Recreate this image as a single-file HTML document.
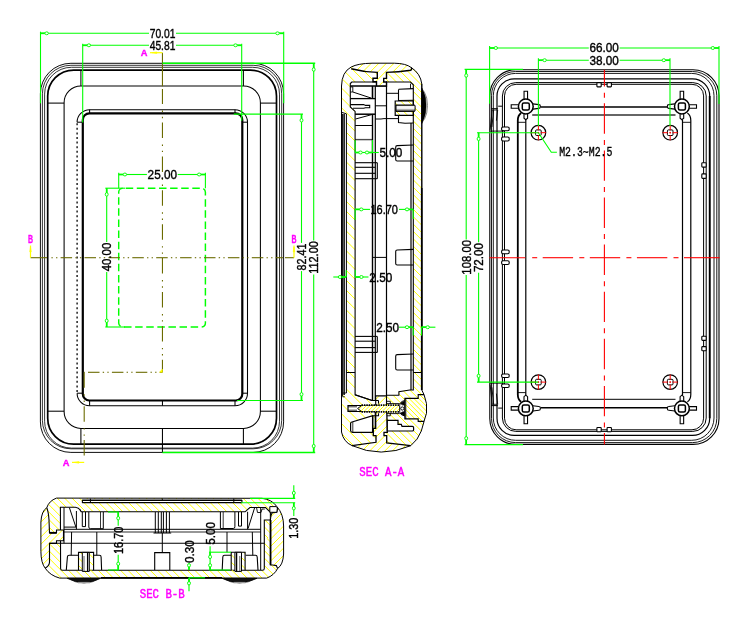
<!DOCTYPE html>
<html><head><meta charset="utf-8"><title>Enclosure drawing</title>
<style>html,body{margin:0;padding:0;background:#fff;overflow:hidden}svg{display:block}</style>
</head><body>
<svg width="750" height="623" viewBox="0 0 750 623" stroke-linecap="butt" style="will-change:transform">
<rect x="0" y="0" width="750" height="623" fill="#fff"/>
<g id="front">
<rect x="40.4" y="63.3" width="243.2" height="389.1" rx="30.5" ry="30.5" stroke="#000" stroke-width="0.95" fill="none" />
<rect x="42.4" y="65.3" width="239.3" height="383.5" rx="28.5" ry="28.5" stroke="#000" stroke-width="0.8" fill="none" />
<rect x="44.6" y="67.3" width="234.9" height="380.8" rx="26.8" ry="26.8" stroke="#000" stroke-width="0.8" fill="none" />
<rect x="47.7" y="70.1" width="228.8" height="374.1" rx="26" ry="26" stroke="#000" stroke-width="1.7" fill="none" />
<rect x="64.1" y="85.9" width="196.3" height="342.5" rx="16.8" ry="16.8" stroke="#000" stroke-width="1.05" fill="none" />
<line x1="80.9" y1="70.1" x2="80.9" y2="85.9" stroke="#000" stroke-width="1.05" />
<line x1="80.9" y1="428.4" x2="80.9" y2="444.2" stroke="#000" stroke-width="1.05" />
<line x1="47.7" y1="103.1" x2="64.1" y2="103.1" stroke="#000" stroke-width="1.05" />
<line x1="47.7" y1="411.2" x2="64.1" y2="411.2" stroke="#000" stroke-width="1.05" />
<line x1="243.4" y1="70.1" x2="243.4" y2="85.9" stroke="#000" stroke-width="1.05" />
<line x1="243.4" y1="428.4" x2="243.4" y2="444.2" stroke="#000" stroke-width="1.05" />
<line x1="276.5" y1="103.1" x2="260.4" y2="103.1" stroke="#000" stroke-width="1.05" />
<line x1="276.5" y1="411.2" x2="260.4" y2="411.2" stroke="#000" stroke-width="1.05" />
<path d="M77.1 122.2 A12.5 12.5 0 0 1 89.6 109.7 L235.0 109.7 A12.5 12.5 0 0 1 247.5 122.2 L247.5 393.2 A12.5 12.5 0 0 1 235.0 405.7 L89.6 405.7 A12.5 12.5 0 0 1 77.1 393.2" stroke="#000" stroke-width="1.05" fill="none" />
<line x1="77.1" y1="123.2" x2="77.1" y2="393.2" stroke="#000" stroke-width="1.3" stroke-dasharray="2 2.6"/>
<rect x="82.8" y="113.4" width="159.5" height="287.1" rx="6.5" ry="6.5" stroke="#000" stroke-width="2.2" fill="none" />
<line x1="77.1" y1="122.2" x2="82.8" y2="122.2" stroke="#000" stroke-width="1.05" />
<line x1="89.6" y1="109.7" x2="89.6" y2="113.4" stroke="#000" stroke-width="1.05" />
<line x1="235" y1="109.7" x2="235" y2="113.4" stroke="#000" stroke-width="1.05" />
<line x1="247.5" y1="122.2" x2="242.3" y2="122.2" stroke="#000" stroke-width="1.05" />
<line x1="77.1" y1="393.2" x2="82.8" y2="393.2" stroke="#000" stroke-width="1.05" />
<line x1="89.6" y1="405.7" x2="89.6" y2="400.5" stroke="#000" stroke-width="1.05" />
<line x1="235" y1="405.7" x2="235" y2="400.5" stroke="#000" stroke-width="1.05" />
<line x1="247.5" y1="393.2" x2="242.3" y2="393.2" stroke="#000" stroke-width="1.05" />
<line x1="162.45" y1="400.5" x2="162.45" y2="405.7" stroke="#000" stroke-width="1.05" />
<line x1="162.45" y1="428.4" x2="162.45" y2="452.4" stroke="#000" stroke-width="1.05" />
<rect x="118.7" y="188.2" width="86.7" height="138.8" rx="4" ry="4" stroke="#00ff00" stroke-width="1.45" fill="none" stroke-dasharray="7.5 3.6" stroke-dashoffset="-3"/>
<line x1="162.45" y1="52.7" x2="162.45" y2="86.3" stroke="#6b6b00" stroke-width="1.1" />
<line x1="162.45" y1="89" x2="162.45" y2="104.1" stroke="#6b6b00" stroke-width="1.1" />
<line x1="162.45" y1="110.6" x2="162.45" y2="112" stroke="#6b6b00" stroke-width="1.1" />
<line x1="162.45" y1="116.8" x2="162.45" y2="118.2" stroke="#6b6b00" stroke-width="1.1" />
<line x1="162.45" y1="122.5" x2="162.45" y2="138" stroke="#6b6b00" stroke-width="1.1" />
<line x1="162.45" y1="144.5" x2="162.45" y2="145.9" stroke="#6b6b00" stroke-width="1.1" />
<line x1="162.45" y1="150.7" x2="162.45" y2="152.1" stroke="#6b6b00" stroke-width="1.1" />
<line x1="162.45" y1="156.4" x2="162.45" y2="171.9" stroke="#6b6b00" stroke-width="1.1" />
<line x1="162.45" y1="178.4" x2="162.45" y2="179.8" stroke="#6b6b00" stroke-width="1.1" />
<line x1="162.45" y1="184.6" x2="162.45" y2="186" stroke="#6b6b00" stroke-width="1.1" />
<line x1="162.45" y1="190.3" x2="162.45" y2="205.8" stroke="#6b6b00" stroke-width="1.1" />
<line x1="162.45" y1="212.3" x2="162.45" y2="213.7" stroke="#6b6b00" stroke-width="1.1" />
<line x1="162.45" y1="218.5" x2="162.45" y2="219.9" stroke="#6b6b00" stroke-width="1.1" />
<line x1="162.45" y1="224.2" x2="162.45" y2="239.7" stroke="#6b6b00" stroke-width="1.1" />
<line x1="162.45" y1="246.2" x2="162.45" y2="247.6" stroke="#6b6b00" stroke-width="1.1" />
<line x1="162.45" y1="252.4" x2="162.45" y2="253.8" stroke="#6b6b00" stroke-width="1.1" />
<line x1="162.45" y1="258.1" x2="162.45" y2="273.6" stroke="#6b6b00" stroke-width="1.1" />
<line x1="162.45" y1="280.1" x2="162.45" y2="281.5" stroke="#6b6b00" stroke-width="1.1" />
<line x1="162.45" y1="286.3" x2="162.45" y2="287.7" stroke="#6b6b00" stroke-width="1.1" />
<line x1="162.45" y1="292" x2="162.45" y2="307.5" stroke="#6b6b00" stroke-width="1.1" />
<line x1="162.45" y1="314" x2="162.45" y2="315.4" stroke="#6b6b00" stroke-width="1.1" />
<line x1="162.45" y1="320.2" x2="162.45" y2="321.6" stroke="#6b6b00" stroke-width="1.1" />
<line x1="162.45" y1="325.9" x2="162.45" y2="341.4" stroke="#6b6b00" stroke-width="1.1" />
<line x1="162.45" y1="347.9" x2="162.45" y2="349.3" stroke="#6b6b00" stroke-width="1.1" />
<line x1="162.45" y1="354.1" x2="162.45" y2="355.5" stroke="#6b6b00" stroke-width="1.1" />
<line x1="162.45" y1="359.8" x2="162.45" y2="372.3" stroke="#6b6b00" stroke-width="1.1" />
<line x1="30.5" y1="257.7" x2="47" y2="257.7" stroke="#6b6b00" stroke-width="1.1" />
<line x1="285" y1="257.7" x2="294" y2="257.7" stroke="#6b6b00" stroke-width="1.1" />
<line x1="51.4" y1="257.7" x2="52.8" y2="257.7" stroke="#6b6b00" stroke-width="1.1" />
<line x1="56" y1="257.7" x2="57.4" y2="257.7" stroke="#6b6b00" stroke-width="1.1" />
<line x1="60.6" y1="257.7" x2="72.1" y2="257.7" stroke="#6b6b00" stroke-width="1.1" />
<line x1="75.3" y1="257.7" x2="76.7" y2="257.7" stroke="#6b6b00" stroke-width="1.1" />
<line x1="79.9" y1="257.7" x2="81.3" y2="257.7" stroke="#6b6b00" stroke-width="1.1" />
<line x1="84.5" y1="257.7" x2="96" y2="257.7" stroke="#6b6b00" stroke-width="1.1" />
<line x1="99.2" y1="257.7" x2="100.6" y2="257.7" stroke="#6b6b00" stroke-width="1.1" />
<line x1="103.8" y1="257.7" x2="105.2" y2="257.7" stroke="#6b6b00" stroke-width="1.1" />
<line x1="108.4" y1="257.7" x2="119.9" y2="257.7" stroke="#6b6b00" stroke-width="1.1" />
<line x1="123.1" y1="257.7" x2="124.5" y2="257.7" stroke="#6b6b00" stroke-width="1.1" />
<line x1="127.7" y1="257.7" x2="129.1" y2="257.7" stroke="#6b6b00" stroke-width="1.1" />
<line x1="132.3" y1="257.7" x2="143.8" y2="257.7" stroke="#6b6b00" stroke-width="1.1" />
<line x1="147" y1="257.7" x2="148.4" y2="257.7" stroke="#6b6b00" stroke-width="1.1" />
<line x1="151.6" y1="257.7" x2="153" y2="257.7" stroke="#6b6b00" stroke-width="1.1" />
<line x1="156.2" y1="257.7" x2="167.7" y2="257.7" stroke="#6b6b00" stroke-width="1.1" />
<line x1="170.9" y1="257.7" x2="172.3" y2="257.7" stroke="#6b6b00" stroke-width="1.1" />
<line x1="175.5" y1="257.7" x2="176.9" y2="257.7" stroke="#6b6b00" stroke-width="1.1" />
<line x1="180.1" y1="257.7" x2="191.6" y2="257.7" stroke="#6b6b00" stroke-width="1.1" />
<line x1="194.8" y1="257.7" x2="196.2" y2="257.7" stroke="#6b6b00" stroke-width="1.1" />
<line x1="199.4" y1="257.7" x2="200.8" y2="257.7" stroke="#6b6b00" stroke-width="1.1" />
<line x1="204" y1="257.7" x2="215.5" y2="257.7" stroke="#6b6b00" stroke-width="1.1" />
<line x1="218.7" y1="257.7" x2="220.1" y2="257.7" stroke="#6b6b00" stroke-width="1.1" />
<line x1="223.3" y1="257.7" x2="224.7" y2="257.7" stroke="#6b6b00" stroke-width="1.1" />
<line x1="227.9" y1="257.7" x2="239.4" y2="257.7" stroke="#6b6b00" stroke-width="1.1" />
<line x1="242.6" y1="257.7" x2="244" y2="257.7" stroke="#6b6b00" stroke-width="1.1" />
<line x1="247.2" y1="257.7" x2="248.6" y2="257.7" stroke="#6b6b00" stroke-width="1.1" />
<line x1="251.8" y1="257.7" x2="263.3" y2="257.7" stroke="#6b6b00" stroke-width="1.1" />
<line x1="266.5" y1="257.7" x2="267.9" y2="257.7" stroke="#6b6b00" stroke-width="1.1" />
<line x1="271.1" y1="257.7" x2="272.5" y2="257.7" stroke="#6b6b00" stroke-width="1.1" />
<line x1="275.7" y1="257.7" x2="283" y2="257.7" stroke="#6b6b00" stroke-width="1.1" />
<line x1="84.2" y1="372.3" x2="84.8" y2="372.3" stroke="#6b6b00" stroke-width="1.1" />
<line x1="88" y1="372.3" x2="99.5" y2="372.3" stroke="#6b6b00" stroke-width="1.1" />
<line x1="102.7" y1="372.3" x2="104.1" y2="372.3" stroke="#6b6b00" stroke-width="1.1" />
<line x1="107.3" y1="372.3" x2="108.7" y2="372.3" stroke="#6b6b00" stroke-width="1.1" />
<line x1="111.9" y1="372.3" x2="123.4" y2="372.3" stroke="#6b6b00" stroke-width="1.1" />
<line x1="126.6" y1="372.3" x2="128" y2="372.3" stroke="#6b6b00" stroke-width="1.1" />
<line x1="131.2" y1="372.3" x2="132.6" y2="372.3" stroke="#6b6b00" stroke-width="1.1" />
<line x1="135.8" y1="372.3" x2="147.3" y2="372.3" stroke="#6b6b00" stroke-width="1.1" />
<line x1="150.5" y1="372.3" x2="151.9" y2="372.3" stroke="#6b6b00" stroke-width="1.1" />
<line x1="155.1" y1="372.3" x2="156.5" y2="372.3" stroke="#6b6b00" stroke-width="1.1" />
<line x1="159.7" y1="372.3" x2="162.4" y2="372.3" stroke="#6b6b00" stroke-width="1.1" />
<line x1="84.2" y1="372.3" x2="84.2" y2="387.8" stroke="#6b6b00" stroke-width="1.1" />
<line x1="84.2" y1="394.3" x2="84.2" y2="395.7" stroke="#6b6b00" stroke-width="1.1" />
<line x1="84.2" y1="400.5" x2="84.2" y2="401.9" stroke="#6b6b00" stroke-width="1.1" />
<line x1="84.2" y1="406.2" x2="84.2" y2="421.7" stroke="#6b6b00" stroke-width="1.1" />
<line x1="84.2" y1="428.2" x2="84.2" y2="429.6" stroke="#6b6b00" stroke-width="1.1" />
<line x1="84.2" y1="434.4" x2="84.2" y2="435.8" stroke="#6b6b00" stroke-width="1.1" />
<line x1="84.2" y1="440.1" x2="84.2" y2="455.6" stroke="#6b6b00" stroke-width="1.1" />
<path d="M162.4 372.3 L162.4 369 L159.5 372.3 Z" stroke="#ffff00" stroke-width="0.5" fill="#ffff00" />
<line x1="150" y1="52.7" x2="162.4" y2="52.7" stroke="#ffff00" stroke-width="1.2" />
<path d="M152 52.7 L156.8 51.9 L156.8 53.5 Z" stroke="#ffff00" stroke-width="0.6" fill="#ffff00" />
<line x1="72" y1="462.4" x2="84.2" y2="462.4" stroke="#ffff00" stroke-width="1.2" />
<path d="M74 462.4 L78.8 461.6 L78.8 463.2 Z" stroke="#ffff00" stroke-width="0.6" fill="#ffff00" />
<line x1="30.5" y1="245.5" x2="30.5" y2="257.7" stroke="#ffff00" stroke-width="1.2" />
<path d="M30.5 247 L29.7 251.8 L31.3 251.8 Z" stroke="#ffff00" stroke-width="0.6" fill="#ffff00" />
<line x1="294" y1="245.5" x2="294" y2="257.7" stroke="#ffff00" stroke-width="1.2" />
<path d="M294 247 L293.2 251.8 L294.8 251.8 Z" stroke="#ffff00" stroke-width="0.6" fill="#ffff00" />
<text transform="translate(144.2 52.7) scale(0.95 1)" x="0" y="3.23" font-family="'Liberation Sans', sans-serif" font-size="9.8" font-weight="bold" text-anchor="middle" fill="#ff00ff" stroke="#ff00ff" stroke-width="0.35">A</text>
<text transform="translate(66 462.8) scale(0.95 1)" x="0" y="3.23" font-family="'Liberation Sans', sans-serif" font-size="9.8" font-weight="bold" text-anchor="middle" fill="#ff00ff" stroke="#ff00ff" stroke-width="0.35">A</text>
<text transform="translate(30.4 239.2) scale(0.66 1)" x="0" y="3.5" font-family="'Liberation Sans', sans-serif" font-size="10.6" font-weight="bold" text-anchor="middle" fill="#ff00ff" stroke="#ff00ff" stroke-width="0.3">B</text>
<text transform="translate(294.1 239) scale(0.66 1)" x="0" y="3.5" font-family="'Liberation Sans', sans-serif" font-size="10.6" font-weight="bold" text-anchor="middle" fill="#ff00ff" stroke="#ff00ff" stroke-width="0.3">B</text>
<line x1="40.5" y1="31.7" x2="40.5" y2="103.3" stroke="#00ff00" stroke-width="1.1" />
<line x1="283.7" y1="31.7" x2="283.7" y2="103.3" stroke="#00ff00" stroke-width="1.1" />
<line x1="40.5" y1="33.3" x2="149.03" y2="33.3" stroke="#00ff00" stroke-width="1.1" />
<line x1="175.97" y1="33.3" x2="283.7" y2="33.3" stroke="#00ff00" stroke-width="1.1" />
<line x1="40.5" y1="33.3" x2="45.2" y2="33.3" stroke="#00ff00" stroke-width="1.7" />
<ellipse cx="46.7" cy="33.3" rx="1.75" ry="1.45" fill="#fff" stroke="#00ff00" stroke-width="0.95"/>
<line x1="283.7" y1="33.3" x2="279" y2="33.3" stroke="#00ff00" stroke-width="1.7" />
<ellipse cx="277.5" cy="33.3" rx="1.75" ry="1.45" fill="#fff" stroke="#00ff00" stroke-width="0.95"/>
<text transform="translate(162.5 33.3) scale(0.755 1)" x="0" y="4.49" font-family="'Liberation Sans', sans-serif" font-size="13.6" font-weight="normal" text-anchor="middle" fill="#000" stroke="#000" stroke-width="0.4">70.01</text>
<line x1="82.7" y1="43.7" x2="82.7" y2="122.5" stroke="#00ff00" stroke-width="1.1" />
<line x1="241.7" y1="43.7" x2="241.7" y2="120.7" stroke="#00ff00" stroke-width="1.1" />
<line x1="82.7" y1="45.3" x2="149.03" y2="45.3" stroke="#00ff00" stroke-width="1.1" />
<line x1="175.97" y1="45.3" x2="241.7" y2="45.3" stroke="#00ff00" stroke-width="1.1" />
<line x1="82.7" y1="45.3" x2="87.4" y2="45.3" stroke="#00ff00" stroke-width="1.7" />
<ellipse cx="88.9" cy="45.3" rx="1.75" ry="1.45" fill="#fff" stroke="#00ff00" stroke-width="0.95"/>
<line x1="241.7" y1="45.3" x2="237" y2="45.3" stroke="#00ff00" stroke-width="1.7" />
<ellipse cx="235.5" cy="45.3" rx="1.75" ry="1.45" fill="#fff" stroke="#00ff00" stroke-width="0.95"/>
<text transform="translate(162.5 45.3) scale(0.755 1)" x="0" y="4.49" font-family="'Liberation Sans', sans-serif" font-size="13.6" font-weight="normal" text-anchor="middle" fill="#000" stroke="#000" stroke-width="0.4">45.81</text>
<line x1="162.4" y1="63.3" x2="315.2" y2="63.3" stroke="#00ff00" stroke-width="1.5" />
<line x1="162.4" y1="452.4" x2="315.2" y2="452.4" stroke="#00ff00" stroke-width="1.5" />
<line x1="313.7" y1="63.3" x2="313.7" y2="240.42" stroke="#00ff00" stroke-width="1.1" />
<line x1="313.7" y1="274.58" x2="313.7" y2="452.3" stroke="#00ff00" stroke-width="1.1" />
<line x1="313.7" y1="63.3" x2="313.7" y2="68" stroke="#00ff00" stroke-width="1.7" />
<ellipse cx="313.7" cy="69.5" rx="1.45" ry="1.75" fill="#fff" stroke="#00ff00" stroke-width="0.95"/>
<line x1="313.7" y1="452.3" x2="313.7" y2="447.6" stroke="#00ff00" stroke-width="1.7" />
<ellipse cx="313.7" cy="446.1" rx="1.45" ry="1.75" fill="#fff" stroke="#00ff00" stroke-width="0.95"/>
<text transform="translate(313.7 257.5) rotate(-90) scale(0.8 1)" x="0" y="4.49" font-family="'Liberation Sans', sans-serif" font-size="13.6" font-weight="normal" text-anchor="middle" fill="#000" stroke="#000" stroke-width="0.4">112.00</text>
<line x1="233.8" y1="114.1" x2="303" y2="114.1" stroke="#00ff00" stroke-width="1.1" />
<line x1="237" y1="400.5" x2="303" y2="400.5" stroke="#00ff00" stroke-width="1.1" />
<line x1="301.5" y1="114.1" x2="301.5" y2="242.91" stroke="#00ff00" stroke-width="1.1" />
<line x1="301.5" y1="271.09" x2="301.5" y2="400.5" stroke="#00ff00" stroke-width="1.1" />
<line x1="301.5" y1="114.1" x2="301.5" y2="118.8" stroke="#00ff00" stroke-width="1.7" />
<ellipse cx="301.5" cy="120.3" rx="1.45" ry="1.75" fill="#fff" stroke="#00ff00" stroke-width="0.95"/>
<line x1="301.5" y1="400.5" x2="301.5" y2="395.8" stroke="#00ff00" stroke-width="1.7" />
<ellipse cx="301.5" cy="394.3" rx="1.45" ry="1.75" fill="#fff" stroke="#00ff00" stroke-width="0.95"/>
<text transform="translate(301.5 257) rotate(-90) scale(0.79 1)" x="0" y="4.49" font-family="'Liberation Sans', sans-serif" font-size="13.6" font-weight="normal" text-anchor="middle" fill="#000" stroke="#000" stroke-width="0.4">82.41</text>
<line x1="118.7" y1="172.8" x2="118.7" y2="188.2" stroke="#00ff00" stroke-width="1.1" />
<line x1="205.4" y1="172.8" x2="205.4" y2="188.2" stroke="#00ff00" stroke-width="1.1" />
<line x1="118.7" y1="174.5" x2="146.89" y2="174.5" stroke="#00ff00" stroke-width="1.1" />
<line x1="177.71" y1="174.5" x2="205.4" y2="174.5" stroke="#00ff00" stroke-width="1.1" />
<line x1="118.7" y1="174.5" x2="123.4" y2="174.5" stroke="#00ff00" stroke-width="1.7" />
<ellipse cx="124.9" cy="174.5" rx="1.75" ry="1.45" fill="#fff" stroke="#00ff00" stroke-width="0.95"/>
<line x1="205.4" y1="174.5" x2="200.7" y2="174.5" stroke="#00ff00" stroke-width="1.7" />
<ellipse cx="199.2" cy="174.5" rx="1.75" ry="1.45" fill="#fff" stroke="#00ff00" stroke-width="0.95"/>
<text transform="translate(162.3 174.5) scale(0.865 1)" x="0" y="4.49" font-family="'Liberation Sans', sans-serif" font-size="13.6" font-weight="normal" text-anchor="middle" fill="#000" stroke="#000" stroke-width="0.4">25.00</text>
<line x1="105.3" y1="188.2" x2="125" y2="188.2" stroke="#00ff00" stroke-width="1.1" />
<line x1="105.3" y1="327" x2="125" y2="327" stroke="#00ff00" stroke-width="1.1" />
<line x1="106.7" y1="188.2" x2="106.7" y2="242.03" stroke="#00ff00" stroke-width="1.1" />
<line x1="106.7" y1="271.97" x2="106.7" y2="327" stroke="#00ff00" stroke-width="1.1" />
<line x1="106.7" y1="188.2" x2="106.7" y2="192.9" stroke="#00ff00" stroke-width="1.7" />
<ellipse cx="106.7" cy="194.4" rx="1.45" ry="1.75" fill="#fff" stroke="#00ff00" stroke-width="0.95"/>
<line x1="106.7" y1="327" x2="106.7" y2="322.3" stroke="#00ff00" stroke-width="1.7" />
<ellipse cx="106.7" cy="320.8" rx="1.45" ry="1.75" fill="#fff" stroke="#00ff00" stroke-width="0.95"/>
<text transform="translate(106.7 257) rotate(-90) scale(0.84 1)" x="0" y="4.49" font-family="'Liberation Sans', sans-serif" font-size="13.6" font-weight="normal" text-anchor="middle" fill="#000" stroke="#000" stroke-width="0.4">40.00</text>
</g>
<g id="right">
<rect x="489.8" y="69.8" width="229.2" height="374.6" rx="26" ry="26" stroke="#000" stroke-width="1.1" fill="none" />
<rect x="491.5" y="71.5" width="225.3" height="371.1" rx="24.2" ry="24.2" stroke="#000" stroke-width="0.9" fill="none" />
<rect x="493.3" y="73.4" width="220.7" height="366.9" rx="22.3" ry="22.3" stroke="#000" stroke-width="0.9" fill="none" />
<rect x="497" y="78.8" width="212.7" height="356.6" rx="17.2" ry="17.2" stroke="#000" stroke-width="1.2" fill="none" />
<line x1="709.7" y1="96" x2="709.7" y2="418.2" stroke="#000" stroke-width="1.8" />
<rect x="502.4" y="82.6" width="203.8" height="348.8" rx="13.4" ry="13.4" stroke="#000" stroke-width="1.0" fill="none" />
<rect x="504.5" y="84.3" width="199.1" height="345.5" rx="11.6" ry="11.6" stroke="#000" stroke-width="1.0" fill="none" />
<circle cx="525.8" cy="106.5" r="7.4" stroke="#000" stroke-width="1.5" fill="#fff"/>
<rect x="522.3" y="103" width="7" height="7" rx="1.5" ry="1.5" stroke="#000" stroke-width="1.5" fill="none" />
<path d="M524.05 99.3 L524.05 91.2 L527.55 91.2 L527.55 99.3" stroke="#000" stroke-width="1.1" fill="none" />
<path d="M518.6 104.75 L511.2 104.75 L511.2 108.25 L518.6 108.25" stroke="#000" stroke-width="1.1" fill="none" />
<path d="M532.8 103.9 L538.9 104.6 Q540.4 104.6 540.4 106.5 Q540.4 108.4 538.9 108.4 L532.8 109.1" stroke="#000" stroke-width="1.1" fill="none" />
<path d="M527.6 113.5 L527.6 118.2 L525.8 119.7 L524 118.2 L524 113.5" stroke="#000" stroke-width="1.1" fill="none" />
<circle cx="681.9" cy="106.5" r="7.4" stroke="#000" stroke-width="1.5" fill="#fff"/>
<rect x="678.4" y="103" width="7" height="7" rx="1.5" ry="1.5" stroke="#000" stroke-width="1.5" fill="none" />
<path d="M680.15 99.3 L680.15 91.2 L683.65 91.2 L683.65 99.3" stroke="#000" stroke-width="1.1" fill="none" />
<path d="M689.1 104.75 L696.5 104.75 L696.5 108.25 L689.1 108.25" stroke="#000" stroke-width="1.1" fill="none" />
<path d="M674.9 103.9 L668.8 104.6 Q667.3 104.6 667.3 106.5 Q667.3 108.4 668.8 108.4 L674.9 109.1" stroke="#000" stroke-width="1.1" fill="none" />
<path d="M683.7 113.5 L683.7 118.2 L681.9 119.7 L680.1 118.2 L680.1 113.5" stroke="#000" stroke-width="1.1" fill="none" />
<circle cx="525.8" cy="408.4" r="7.4" stroke="#000" stroke-width="1.5" fill="#fff"/>
<rect x="522.3" y="404.9" width="7" height="7" rx="1.5" ry="1.5" stroke="#000" stroke-width="1.5" fill="none" />
<path d="M524.05 415.6 L524.05 423.7 L527.55 423.7 L527.55 415.6" stroke="#000" stroke-width="1.1" fill="none" />
<path d="M518.6 406.65 L511.2 406.65 L511.2 410.15 L518.6 410.15" stroke="#000" stroke-width="1.1" fill="none" />
<path d="M532.8 405.8 L538.9 406.5 Q540.4 406.5 540.4 408.4 Q540.4 410.3 538.9 410.3 L532.8 411" stroke="#000" stroke-width="1.1" fill="none" />
<path d="M527.6 401.4 L527.6 396.7 L525.8 395.2 L524 396.7 L524 401.4" stroke="#000" stroke-width="1.1" fill="none" />
<circle cx="681.9" cy="408.4" r="7.4" stroke="#000" stroke-width="1.5" fill="#fff"/>
<rect x="678.4" y="404.9" width="7" height="7" rx="1.5" ry="1.5" stroke="#000" stroke-width="1.5" fill="none" />
<path d="M680.15 415.6 L680.15 423.7 L683.65 423.7 L683.65 415.6" stroke="#000" stroke-width="1.1" fill="none" />
<path d="M689.1 406.65 L696.5 406.65 L696.5 410.15 L689.1 410.15" stroke="#000" stroke-width="1.1" fill="none" />
<path d="M674.9 405.8 L668.8 406.5 Q667.3 406.5 667.3 408.4 Q667.3 410.3 668.8 410.3 L674.9 411" stroke="#000" stroke-width="1.1" fill="none" />
<path d="M683.7 401.4 L683.7 396.7 L681.9 395.2 L680.1 396.7 L680.1 401.4" stroke="#000" stroke-width="1.1" fill="none" />
<line x1="540.6" y1="107" x2="667.1" y2="107" stroke="#000" stroke-width="1.6" />
<line x1="540.6" y1="407.8" x2="667.1" y2="407.8" stroke="#000" stroke-width="1.6" />
<line x1="532.2" y1="115" x2="675.5" y2="115" stroke="#000" stroke-width="1.4" stroke-opacity="0.8"/>
<line x1="532.2" y1="399.4" x2="675.5" y2="399.4" stroke="#000" stroke-width="1.4" stroke-opacity="0.8"/>
<path d="M521.2 113.1 Q517.8 115.5 517.8 120.5 L517.8 394.4 Q517.8 399.4 521.2 401.8" stroke="#000" stroke-width="1.8" fill="none" />
<line x1="525.8" y1="119.7" x2="525.8" y2="395.2" stroke="#000" stroke-width="1.2" />
<path d="M687.4 113.1 Q690.8 115.5 690.8 120.5 L690.8 394.4 Q690.8 399.4 687.4 401.8" stroke="#000" stroke-width="1.2" fill="none" />
<line x1="682.5" y1="119.7" x2="682.5" y2="395.2" stroke="#000" stroke-width="1.2" />
<line x1="517.8" y1="122.3" x2="525.8" y2="122.3" stroke="#000" stroke-width="0.9" />
<line x1="682.5" y1="122.3" x2="690.8" y2="122.3" stroke="#000" stroke-width="0.9" />
<line x1="517.8" y1="392.6" x2="525.8" y2="392.6" stroke="#000" stroke-width="0.9" />
<line x1="682.5" y1="392.6" x2="690.8" y2="392.6" stroke="#000" stroke-width="0.9" />
<circle cx="538.4" cy="132.7" r="7.3" stroke="#000" stroke-width="1.2" fill="none"/>
<rect x="535.6" y="129.9" width="5.6" height="5.6" rx="1" ry="1" stroke="#000" stroke-width="1.0" fill="none" />
<line x1="530.8" y1="132.7" x2="546" y2="132.7" stroke="#ff0000" stroke-width="1.0" stroke-dasharray="5.2 1.6 1.6 1.6"/>
<line x1="538.4" y1="125.1" x2="538.4" y2="140.3" stroke="#ff0000" stroke-width="1.0" stroke-dasharray="5.2 1.6 1.6 1.6"/>
<circle cx="670.2" cy="132.7" r="7.3" stroke="#000" stroke-width="1.2" fill="none"/>
<rect x="667.4" y="129.9" width="5.6" height="5.6" rx="1" ry="1" stroke="#000" stroke-width="1.0" fill="none" />
<line x1="662.6" y1="132.7" x2="677.8" y2="132.7" stroke="#ff0000" stroke-width="1.0" stroke-dasharray="5.2 1.6 1.6 1.6"/>
<line x1="670.2" y1="125.1" x2="670.2" y2="140.3" stroke="#ff0000" stroke-width="1.0" stroke-dasharray="5.2 1.6 1.6 1.6"/>
<circle cx="538.4" cy="382.1" r="7.3" stroke="#000" stroke-width="1.2" fill="none"/>
<rect x="535.6" y="379.3" width="5.6" height="5.6" rx="1" ry="1" stroke="#000" stroke-width="1.0" fill="none" />
<line x1="530.8" y1="382.1" x2="546" y2="382.1" stroke="#ff0000" stroke-width="1.0" stroke-dasharray="5.2 1.6 1.6 1.6"/>
<line x1="538.4" y1="374.5" x2="538.4" y2="389.7" stroke="#ff0000" stroke-width="1.0" stroke-dasharray="5.2 1.6 1.6 1.6"/>
<circle cx="670.2" cy="382.1" r="7.3" stroke="#000" stroke-width="1.2" fill="none"/>
<rect x="667.4" y="379.3" width="5.6" height="5.6" rx="1" ry="1" stroke="#000" stroke-width="1.0" fill="none" />
<line x1="662.6" y1="382.1" x2="677.8" y2="382.1" stroke="#ff0000" stroke-width="1.0" stroke-dasharray="5.2 1.6 1.6 1.6"/>
<line x1="670.2" y1="374.5" x2="670.2" y2="389.7" stroke="#ff0000" stroke-width="1.0" stroke-dasharray="5.2 1.6 1.6 1.6"/>
<rect x="501.6" y="127" width="7.6" height="3.7" rx="1.5" ry="1.5" stroke="#000" stroke-width="1.1" fill="#fff" />
<rect x="501.6" y="137" width="7.6" height="4" rx="1.5" ry="1.5" stroke="#000" stroke-width="1.1" fill="#fff" />
<rect x="501.6" y="250" width="7.6" height="3.8" rx="1.5" ry="1.5" stroke="#000" stroke-width="1.1" fill="#fff" />
<rect x="501.6" y="260.8" width="7.6" height="3.7" rx="1.5" ry="1.5" stroke="#000" stroke-width="1.1" fill="#fff" />
<rect x="501.6" y="374" width="7.6" height="3.5" rx="1.5" ry="1.5" stroke="#000" stroke-width="1.1" fill="#fff" />
<rect x="501.6" y="384" width="7.6" height="3.5" rx="1.5" ry="1.5" stroke="#000" stroke-width="1.1" fill="#fff" />
<rect x="701.8" y="162.8" width="4.4" height="4.3" rx="0.8" ry="0.8" stroke="#000" stroke-width="1.1" fill="#fff" />
<rect x="701.8" y="173.9" width="4.4" height="4.5" rx="0.8" ry="0.8" stroke="#000" stroke-width="1.1" fill="#fff" />
<rect x="701.8" y="336.2" width="4.4" height="4.2" rx="0.8" ry="0.8" stroke="#000" stroke-width="1.1" fill="#fff" />
<rect x="701.8" y="346.6" width="4.4" height="4.2" rx="0.8" ry="0.8" stroke="#000" stroke-width="1.1" fill="#fff" />
<rect x="596.9" y="82.6" width="4.3" height="4.3" rx="0.6" ry="0.6" stroke="#000" stroke-width="1.1" fill="#fff" />
<rect x="596.9" y="427.5" width="4.3" height="4.3" rx="0.6" ry="0.6" stroke="#000" stroke-width="1.1" fill="#fff" />
<rect x="607.1" y="82.6" width="4.3" height="4.3" rx="0.6" ry="0.6" stroke="#000" stroke-width="1.1" fill="#fff" />
<rect x="607.1" y="427.5" width="4.3" height="4.3" rx="0.6" ry="0.6" stroke="#000" stroke-width="1.1" fill="#fff" />
<line x1="491" y1="108.7" x2="497.8" y2="108.7" stroke="#000" stroke-width="1.0" />
<line x1="491.5" y1="110" x2="497.6" y2="110" stroke="#000" stroke-width="0.8" />
<line x1="498.2" y1="106.2" x2="502.4" y2="106.2" stroke="#000" stroke-width="1.0" />
<path d="M492.2 110.1 L490.1 129.9" stroke="#000" stroke-width="0.9" fill="none" />
<path d="M493.6 110.1 L491.9 127" stroke="#000" stroke-width="0.9" fill="none" />
<path d="M497.7 110 L496.4 120.7" stroke="#000" stroke-width="0.9" fill="none" />
<line x1="489.8" y1="131.1" x2="503.8" y2="131.1" stroke="#000" stroke-width="0.9" />
<line x1="491" y1="405.6" x2="497.8" y2="405.6" stroke="#000" stroke-width="1.0" />
<line x1="491.5" y1="404.3" x2="497.6" y2="404.3" stroke="#000" stroke-width="0.8" />
<line x1="498.2" y1="408.1" x2="502.4" y2="408.1" stroke="#000" stroke-width="1.0" />
<path d="M492.2 404.2 L490.1 384.4" stroke="#000" stroke-width="0.9" fill="none" />
<path d="M493.6 404.2 L491.9 387.3" stroke="#000" stroke-width="0.9" fill="none" />
<path d="M497.7 404.3 L496.4 393.6" stroke="#000" stroke-width="0.9" fill="none" />
<line x1="489.8" y1="383.2" x2="503.8" y2="383.2" stroke="#000" stroke-width="0.9" />
<line x1="604.4" y1="69.8" x2="604.4" y2="86.6" stroke="#ff0000" stroke-width="1.1" />
<line x1="604.4" y1="92.8" x2="604.4" y2="97.8" stroke="#ff0000" stroke-width="1.1" />
<line x1="604.4" y1="103.3" x2="604.4" y2="133.7" stroke="#ff0000" stroke-width="1.1" />
<line x1="604.4" y1="139.9" x2="604.4" y2="144.9" stroke="#ff0000" stroke-width="1.1" />
<line x1="604.4" y1="150.4" x2="604.4" y2="180.8" stroke="#ff0000" stroke-width="1.1" />
<line x1="604.4" y1="187" x2="604.4" y2="192" stroke="#ff0000" stroke-width="1.1" />
<line x1="604.4" y1="197.5" x2="604.4" y2="227.9" stroke="#ff0000" stroke-width="1.1" />
<line x1="604.4" y1="234.1" x2="604.4" y2="239.1" stroke="#ff0000" stroke-width="1.1" />
<line x1="604.4" y1="244.6" x2="604.4" y2="275" stroke="#ff0000" stroke-width="1.1" />
<line x1="604.4" y1="281.2" x2="604.4" y2="286.2" stroke="#ff0000" stroke-width="1.1" />
<line x1="604.4" y1="291.7" x2="604.4" y2="322.1" stroke="#ff0000" stroke-width="1.1" />
<line x1="604.4" y1="328.3" x2="604.4" y2="333.3" stroke="#ff0000" stroke-width="1.1" />
<line x1="604.4" y1="338.8" x2="604.4" y2="369.2" stroke="#ff0000" stroke-width="1.1" />
<line x1="604.4" y1="375.4" x2="604.4" y2="380.4" stroke="#ff0000" stroke-width="1.1" />
<line x1="604.4" y1="385.9" x2="604.4" y2="416.3" stroke="#ff0000" stroke-width="1.1" />
<line x1="604.4" y1="422.5" x2="604.4" y2="427.5" stroke="#ff0000" stroke-width="1.1" />
<line x1="604.4" y1="433" x2="604.4" y2="444.6" stroke="#ff0000" stroke-width="1.1" />
<line x1="489.3" y1="257.7" x2="525.3" y2="257.7" stroke="#ff0000" stroke-width="1.1" />
<line x1="714" y1="257.7" x2="719.6" y2="257.7" stroke="#ff0000" stroke-width="1.1" />
<line x1="532.2" y1="257.7" x2="537.2" y2="257.7" stroke="#ff0000" stroke-width="1.1" />
<line x1="542.7" y1="257.7" x2="573.1" y2="257.7" stroke="#ff0000" stroke-width="1.1" />
<line x1="579.3" y1="257.7" x2="584.3" y2="257.7" stroke="#ff0000" stroke-width="1.1" />
<line x1="589.8" y1="257.7" x2="620.2" y2="257.7" stroke="#ff0000" stroke-width="1.1" />
<line x1="626.4" y1="257.7" x2="631.4" y2="257.7" stroke="#ff0000" stroke-width="1.1" />
<line x1="636.9" y1="257.7" x2="667.3" y2="257.7" stroke="#ff0000" stroke-width="1.1" />
<line x1="673.5" y1="257.7" x2="678.5" y2="257.7" stroke="#ff0000" stroke-width="1.1" />
<line x1="684" y1="257.7" x2="714.4" y2="257.7" stroke="#ff0000" stroke-width="1.1" />
<line x1="489.6" y1="46" x2="489.6" y2="103.8" stroke="#00ff00" stroke-width="1.1" />
<line x1="719" y1="46" x2="719" y2="104" stroke="#00ff00" stroke-width="1.1" />
<line x1="489.6" y1="48" x2="588.79" y2="48" stroke="#00ff00" stroke-width="1.1" />
<line x1="619.61" y1="48" x2="719" y2="48" stroke="#00ff00" stroke-width="1.1" />
<line x1="489.6" y1="48" x2="494.3" y2="48" stroke="#00ff00" stroke-width="1.7" />
<ellipse cx="495.8" cy="48" rx="1.75" ry="1.45" fill="#fff" stroke="#00ff00" stroke-width="0.95"/>
<line x1="719" y1="48" x2="714.3" y2="48" stroke="#00ff00" stroke-width="1.7" />
<ellipse cx="712.8" cy="48" rx="1.75" ry="1.45" fill="#fff" stroke="#00ff00" stroke-width="0.95"/>
<text transform="translate(604.2 48) scale(0.865 1)" x="0" y="4.49" font-family="'Liberation Sans', sans-serif" font-size="13.6" font-weight="normal" text-anchor="middle" fill="#000" stroke="#000" stroke-width="0.4">66.00</text>
<line x1="538.4" y1="58.3" x2="538.4" y2="126" stroke="#00ff00" stroke-width="1.1" />
<line x1="670" y1="58.3" x2="670" y2="126" stroke="#00ff00" stroke-width="1.1" />
<line x1="538.4" y1="60.2" x2="588.79" y2="60.2" stroke="#00ff00" stroke-width="1.1" />
<line x1="619.61" y1="60.2" x2="670" y2="60.2" stroke="#00ff00" stroke-width="1.1" />
<line x1="538.4" y1="60.2" x2="543.1" y2="60.2" stroke="#00ff00" stroke-width="1.7" />
<ellipse cx="544.6" cy="60.2" rx="1.75" ry="1.45" fill="#fff" stroke="#00ff00" stroke-width="0.95"/>
<line x1="670" y1="60.2" x2="665.3" y2="60.2" stroke="#00ff00" stroke-width="1.7" />
<ellipse cx="663.8" cy="60.2" rx="1.75" ry="1.45" fill="#fff" stroke="#00ff00" stroke-width="0.95"/>
<text transform="translate(604.2 60.2) scale(0.865 1)" x="0" y="4.49" font-family="'Liberation Sans', sans-serif" font-size="13.6" font-weight="normal" text-anchor="middle" fill="#000" stroke="#000" stroke-width="0.4">38.00</text>
<line x1="464.6" y1="69.4" x2="523" y2="69.4" stroke="#00ff00" stroke-width="1.4" />
<line x1="464.6" y1="444.6" x2="523" y2="444.6" stroke="#00ff00" stroke-width="1.4" />
<line x1="466.2" y1="69.3" x2="466.2" y2="239.48" stroke="#00ff00" stroke-width="1.1" />
<line x1="466.2" y1="275.12" x2="466.2" y2="444.5" stroke="#00ff00" stroke-width="1.1" />
<line x1="466.2" y1="69.3" x2="466.2" y2="74" stroke="#00ff00" stroke-width="1.7" />
<ellipse cx="466.2" cy="75.5" rx="1.45" ry="1.75" fill="#fff" stroke="#00ff00" stroke-width="0.95"/>
<line x1="466.2" y1="444.5" x2="466.2" y2="439.8" stroke="#00ff00" stroke-width="1.7" />
<ellipse cx="466.2" cy="438.3" rx="1.45" ry="1.75" fill="#fff" stroke="#00ff00" stroke-width="0.95"/>
<text transform="translate(466.2 257.3) rotate(-90) scale(0.835 1)" x="0" y="4.49" font-family="'Liberation Sans', sans-serif" font-size="13.6" font-weight="normal" text-anchor="middle" fill="#000" stroke="#000" stroke-width="0.4">108.00</text>
<line x1="477" y1="132.7" x2="538.4" y2="132.7" stroke="#00ff00" stroke-width="1.1" />
<line x1="477" y1="382.1" x2="538.4" y2="382.1" stroke="#00ff00" stroke-width="1.1" />
<line x1="478.6" y1="132.7" x2="478.6" y2="242.18" stroke="#00ff00" stroke-width="1.1" />
<line x1="478.6" y1="272.82" x2="478.6" y2="382.1" stroke="#00ff00" stroke-width="1.1" />
<line x1="478.6" y1="132.7" x2="478.6" y2="137.4" stroke="#00ff00" stroke-width="1.7" />
<ellipse cx="478.6" cy="138.9" rx="1.45" ry="1.75" fill="#fff" stroke="#00ff00" stroke-width="0.95"/>
<line x1="478.6" y1="382.1" x2="478.6" y2="377.4" stroke="#00ff00" stroke-width="1.7" />
<ellipse cx="478.6" cy="375.9" rx="1.45" ry="1.75" fill="#fff" stroke="#00ff00" stroke-width="0.95"/>
<text transform="translate(478.6 257.5) rotate(-90) scale(0.86 1)" x="0" y="4.49" font-family="'Liberation Sans', sans-serif" font-size="13.6" font-weight="normal" text-anchor="middle" fill="#000" stroke="#000" stroke-width="0.4">72.00</text>
<path d="M538.4 132.7 L551.3 152.3 L556.9 152.3" stroke="#00ff00" stroke-width="1.1" fill="none" />
<text transform="translate(585.8 152) scale(0.785 1)" x="0" y="4.16" font-family="'Liberation Mono', sans-serif" font-size="12.6" font-weight="normal" text-anchor="middle" fill="#000" stroke="#000" stroke-width="0.35">M2.3~M2.5</text>
</g>
<g id="side">
<clipPath id="hc1b"><rect x="338" y="60" width="43" height="396"/></clipPath>
<clipPath id="hc1" clip-path="url(#hc1b)"><path d="M351.2 67 Q341.8 72 341.5 86 L341.5 432 Q343.5 442 352 445.6 Q381 458.5 410.7 445.7 Q418 440 421.3 431 L425.3 417 L426.5 413.3 L426.5 403.7 L424.1 394.8 L421.8 390 L421.8 84 Q420.5 73.5 411.3 67.6 Q406 63.4 394.4 63.2 L372 63.2 Q358 63.4 351.2 67 Z"/></clipPath>
<g clip-path="url(#hc1)" stroke="#ffff00" stroke-width="1.0">
<line x1="-61.62" y1="60" x2="334.38" y2="456"/>
<line x1="-51.75" y1="60" x2="344.25" y2="456"/>
<line x1="-41.88" y1="60" x2="354.12" y2="456"/>
<line x1="-32.01" y1="60" x2="363.99" y2="456"/>
<line x1="-22.14" y1="60" x2="373.86" y2="456"/>
<line x1="-12.27" y1="60" x2="383.73" y2="456"/>
<line x1="-2.4" y1="60" x2="393.6" y2="456"/>
<line x1="7.48" y1="60" x2="403.48" y2="456"/>
<line x1="17.35" y1="60" x2="413.35" y2="456"/>
<line x1="27.22" y1="60" x2="423.22" y2="456"/>
<line x1="37.09" y1="60" x2="433.09" y2="456"/>
<line x1="46.96" y1="60" x2="442.96" y2="456"/>
<line x1="56.83" y1="60" x2="452.83" y2="456"/>
<line x1="66.7" y1="60" x2="462.7" y2="456"/>
<line x1="76.57" y1="60" x2="472.57" y2="456"/>
<line x1="86.45" y1="60" x2="482.45" y2="456"/>
<line x1="96.32" y1="60" x2="492.32" y2="456"/>
<line x1="106.19" y1="60" x2="502.19" y2="456"/>
<line x1="116.06" y1="60" x2="512.06" y2="456"/>
<line x1="125.93" y1="60" x2="521.93" y2="456"/>
<line x1="135.8" y1="60" x2="531.8" y2="456"/>
<line x1="145.67" y1="60" x2="541.67" y2="456"/>
<line x1="155.54" y1="60" x2="551.54" y2="456"/>
<line x1="165.42" y1="60" x2="561.42" y2="456"/>
<line x1="175.29" y1="60" x2="571.29" y2="456"/>
<line x1="185.16" y1="60" x2="581.16" y2="456"/>
<line x1="195.03" y1="60" x2="591.03" y2="456"/>
<line x1="204.9" y1="60" x2="600.9" y2="456"/>
<line x1="214.77" y1="60" x2="610.77" y2="456"/>
<line x1="224.64" y1="60" x2="620.64" y2="456"/>
<line x1="234.51" y1="60" x2="630.51" y2="456"/>
<line x1="244.38" y1="60" x2="640.38" y2="456"/>
<line x1="254.26" y1="60" x2="650.26" y2="456"/>
<line x1="264.13" y1="60" x2="660.13" y2="456"/>
<line x1="274" y1="60" x2="670" y2="456"/>
<line x1="283.87" y1="60" x2="679.87" y2="456"/>
<line x1="293.74" y1="60" x2="689.74" y2="456"/>
<line x1="303.61" y1="60" x2="699.61" y2="456"/>
<line x1="313.48" y1="60" x2="709.48" y2="456"/>
<line x1="323.35" y1="60" x2="719.35" y2="456"/>
<line x1="333.23" y1="60" x2="729.23" y2="456"/>
<line x1="343.1" y1="60" x2="739.1" y2="456"/>
<line x1="352.97" y1="60" x2="748.97" y2="456"/>
<line x1="362.84" y1="60" x2="758.84" y2="456"/>
<line x1="372.71" y1="60" x2="768.71" y2="456"/>
<line x1="382.58" y1="60" x2="778.58" y2="456"/>
</g>
<clipPath id="hc2b"><rect x="381" y="60" width="49" height="396"/></clipPath>
<clipPath id="hc2" clip-path="url(#hc2b)"><path d="M351.2 67 Q341.8 72 341.5 86 L341.5 432 Q343.5 442 352 445.6 Q381 458.5 410.7 445.7 Q418 440 421.3 431 L425.3 417 L426.5 413.3 L426.5 403.7 L424.1 394.8 L421.8 390 L421.8 84 Q420.5 73.5 411.3 67.6 Q406 63.4 394.4 63.2 L372 63.2 Q358 63.4 351.2 67 Z"/></clipPath>
<g clip-path="url(#hc2)" stroke="#ffff00" stroke-width="1.0">
<line x1="-15.94" y1="60" x2="380.06" y2="456"/>
<line x1="-8.58" y1="60" x2="387.42" y2="456"/>
<line x1="-1.21" y1="60" x2="394.79" y2="456"/>
<line x1="6.15" y1="60" x2="402.15" y2="456"/>
<line x1="13.52" y1="60" x2="409.52" y2="456"/>
<line x1="20.88" y1="60" x2="416.88" y2="456"/>
<line x1="28.25" y1="60" x2="424.25" y2="456"/>
<line x1="35.61" y1="60" x2="431.61" y2="456"/>
<line x1="42.98" y1="60" x2="438.98" y2="456"/>
<line x1="50.34" y1="60" x2="446.34" y2="456"/>
<line x1="57.71" y1="60" x2="453.71" y2="456"/>
<line x1="65.07" y1="60" x2="461.07" y2="456"/>
<line x1="72.44" y1="60" x2="468.44" y2="456"/>
<line x1="79.8" y1="60" x2="475.8" y2="456"/>
<line x1="87.17" y1="60" x2="483.17" y2="456"/>
<line x1="94.53" y1="60" x2="490.53" y2="456"/>
<line x1="101.9" y1="60" x2="497.9" y2="456"/>
<line x1="109.27" y1="60" x2="505.27" y2="456"/>
<line x1="116.63" y1="60" x2="512.63" y2="456"/>
<line x1="124" y1="60" x2="520" y2="456"/>
<line x1="131.36" y1="60" x2="527.36" y2="456"/>
<line x1="138.73" y1="60" x2="534.73" y2="456"/>
<line x1="146.09" y1="60" x2="542.09" y2="456"/>
<line x1="153.46" y1="60" x2="549.46" y2="456"/>
<line x1="160.82" y1="60" x2="556.82" y2="456"/>
<line x1="168.19" y1="60" x2="564.19" y2="456"/>
<line x1="175.55" y1="60" x2="571.55" y2="456"/>
<line x1="182.92" y1="60" x2="578.92" y2="456"/>
<line x1="190.28" y1="60" x2="586.28" y2="456"/>
<line x1="197.65" y1="60" x2="593.65" y2="456"/>
<line x1="205.01" y1="60" x2="601.01" y2="456"/>
<line x1="212.38" y1="60" x2="608.38" y2="456"/>
<line x1="219.74" y1="60" x2="615.74" y2="456"/>
<line x1="227.11" y1="60" x2="623.11" y2="456"/>
<line x1="234.47" y1="60" x2="630.47" y2="456"/>
<line x1="241.84" y1="60" x2="637.84" y2="456"/>
<line x1="249.2" y1="60" x2="645.2" y2="456"/>
<line x1="256.57" y1="60" x2="652.57" y2="456"/>
<line x1="263.93" y1="60" x2="659.93" y2="456"/>
<line x1="271.3" y1="60" x2="667.3" y2="456"/>
<line x1="278.67" y1="60" x2="674.67" y2="456"/>
<line x1="286.03" y1="60" x2="682.03" y2="456"/>
<line x1="293.4" y1="60" x2="689.4" y2="456"/>
<line x1="300.76" y1="60" x2="696.76" y2="456"/>
<line x1="308.13" y1="60" x2="704.13" y2="456"/>
<line x1="315.49" y1="60" x2="711.49" y2="456"/>
<line x1="322.86" y1="60" x2="718.86" y2="456"/>
<line x1="330.22" y1="60" x2="726.22" y2="456"/>
<line x1="337.59" y1="60" x2="733.59" y2="456"/>
<line x1="344.95" y1="60" x2="740.95" y2="456"/>
<line x1="352.32" y1="60" x2="748.32" y2="456"/>
<line x1="359.68" y1="60" x2="755.68" y2="456"/>
<line x1="367.05" y1="60" x2="763.05" y2="456"/>
<line x1="374.41" y1="60" x2="770.41" y2="456"/>
<line x1="381.78" y1="60" x2="777.78" y2="456"/>
<line x1="389.14" y1="60" x2="785.14" y2="456"/>
<line x1="396.51" y1="60" x2="792.51" y2="456"/>
<line x1="403.87" y1="60" x2="799.87" y2="456"/>
<line x1="411.24" y1="60" x2="807.24" y2="456"/>
<line x1="418.6" y1="60" x2="814.6" y2="456"/>
<line x1="425.97" y1="60" x2="821.97" y2="456"/>
<line x1="433.33" y1="60" x2="829.33" y2="456"/>
</g>
<path d="M351.8 82 L376.5 82 L376.5 86 L386.5 86 L386.5 82 L410.5 82 L413.3 84.8 L413.3 390 L409.7 390 L398.9 391.6 L398.9 395.2 L386.5 395.3 L386.5 396 L375.7 396 L375.7 400.5 L372.1 400.5 L355.1 394.8 L355.1 111.4 L350.3 107 L350.3 83.5 Z" stroke="#000" stroke-width="1.1" fill="#fff" />
<path d="M340 113.8 L346.4 113.8 L346.4 394 L340 394 Z" stroke="none" stroke-width="0" fill="#fff" />
<line x1="341.5" y1="86" x2="341.5" y2="432" stroke="#000" stroke-width="1.0" />
<line x1="342.5" y1="113.8" x2="342.5" y2="396.5" stroke="#000" stroke-width="0.9" />
<line x1="344.1" y1="113.8" x2="344.1" y2="395" stroke="#000" stroke-width="1.5" />
<line x1="346.4" y1="113.8" x2="346.4" y2="393" stroke="#000" stroke-width="1.0" />
<line x1="341.5" y1="112.2" x2="346.4" y2="113.8" stroke="#000" stroke-width="0.9" />
<line x1="342.5" y1="393" x2="346.4" y2="393" stroke="#000" stroke-width="0.9" />
<line x1="342.5" y1="396.8" x2="344.8" y2="396.8" stroke="#000" stroke-width="0.9" />
<path d="M351.2 67 Q358 63.4 372 63.2 L394.4 63.2 Q406 63.4 411.3 67.4 Q412.3 69 410.9 70.3 Q398 72.3 386.5 72.4 L386.5 78.4 L383.7 78.4 L383.7 82 L386.5 82 L386.5 86 L376.5 86 L376.5 81.7 L373 81.7 L373 78.2 L377.3 78.2 L377.3 72.4 Q364 72.2 351.2 68.8 Z" stroke="none" stroke-width="0" fill="#fff" />
<clipPath id="hc3b"><rect x="350" y="60" width="64" height="30"/></clipPath>
<clipPath id="hc3" clip-path="url(#hc3b)"><path d="M351.2 67 Q358 63.4 372 63.2 L394.4 63.2 Q406 63.4 411.3 67.4 Q412.3 69 410.9 70.3 Q398 72.3 386.5 72.4 L386.5 78.4 L383.7 78.4 L383.7 82 L386.5 82 L386.5 86 L376.5 86 L376.5 81.7 L373 81.7 L373 78.2 L377.3 78.2 L377.3 72.4 Q364 72.2 351.2 68.8 Z"/></clipPath>
<g clip-path="url(#hc3)" stroke="#ffff00" stroke-width="1.0">
<line x1="344.28" y1="60" x2="314.28" y2="90"/>
<line x1="351.85" y1="60" x2="321.85" y2="90"/>
<line x1="359.42" y1="60" x2="329.42" y2="90"/>
<line x1="366.99" y1="60" x2="336.99" y2="90"/>
<line x1="374.56" y1="60" x2="344.56" y2="90"/>
<line x1="382.13" y1="60" x2="352.13" y2="90"/>
<line x1="389.7" y1="60" x2="359.7" y2="90"/>
<line x1="397.27" y1="60" x2="367.27" y2="90"/>
<line x1="404.84" y1="60" x2="374.84" y2="90"/>
<line x1="412.41" y1="60" x2="382.41" y2="90"/>
<line x1="419.98" y1="60" x2="389.98" y2="90"/>
<line x1="427.55" y1="60" x2="397.55" y2="90"/>
<line x1="435.12" y1="60" x2="405.12" y2="90"/>
<line x1="442.69" y1="60" x2="412.69" y2="90"/>
<line x1="450.26" y1="60" x2="420.26" y2="90"/>
</g>
<path d="M351.2 68.8 Q364 72.2 377.3 72.4 L377.3 78.2 L373 78.2 L373 81.7 L376.5 81.7 L376.5 86 L386.5 86 L386.5 82 L383.7 82 L383.7 78.4 L386.5 78.4 L386.5 72.4 Q398 72.3 410.9 70.3 Q412.3 69 411.3 67.4" stroke="#000" stroke-width="1.4" fill="none" />
<path d="M352 445.6 L376 442.3 L376 435.7 L373.3 435.7 L373.3 428.3 L375.7 428.3 L375.7 412 L386.8 412 L387.3 432.3 L384 432.3 L384 435.7 L386.7 435.7 L386.7 443 L410.7 445.7 Q381 458.5 352 445.6 Z" stroke="none" stroke-width="0" fill="#fff" />
<clipPath id="hc4b"><rect x="350" y="410" width="64" height="46"/></clipPath>
<clipPath id="hc4" clip-path="url(#hc4b)"><path d="M352 445.6 L376 442.3 L376 435.7 L373.3 435.7 L373.3 428.3 L375.7 428.3 L375.7 412 L386.8 412 L387.3 432.3 L384 432.3 L384 435.7 L386.7 435.7 L386.7 443 L410.7 445.7 Q381 458.5 352 445.6 Z"/></clipPath>
<g clip-path="url(#hc4)" stroke="#ffff00" stroke-width="1.0">
<line x1="342.51" y1="410" x2="296.51" y2="456"/>
<line x1="350.08" y1="410" x2="304.08" y2="456"/>
<line x1="357.65" y1="410" x2="311.65" y2="456"/>
<line x1="365.22" y1="410" x2="319.22" y2="456"/>
<line x1="372.79" y1="410" x2="326.79" y2="456"/>
<line x1="380.36" y1="410" x2="334.36" y2="456"/>
<line x1="387.93" y1="410" x2="341.93" y2="456"/>
<line x1="395.5" y1="410" x2="349.5" y2="456"/>
<line x1="403.07" y1="410" x2="357.07" y2="456"/>
<line x1="410.64" y1="410" x2="364.64" y2="456"/>
<line x1="418.21" y1="410" x2="372.21" y2="456"/>
<line x1="425.78" y1="410" x2="379.78" y2="456"/>
<line x1="433.35" y1="410" x2="387.35" y2="456"/>
<line x1="440.92" y1="410" x2="394.92" y2="456"/>
<line x1="448.49" y1="410" x2="402.49" y2="456"/>
<line x1="456.06" y1="410" x2="410.06" y2="456"/>
<line x1="463.63" y1="410" x2="417.63" y2="456"/>
</g>
<path d="M352 445.6 L376 442.3 L376 435.7 L373.3 435.7 L373.3 428.3 L375.7 428.3 L375.7 412 M386.8 412 L387.3 432.3 L384 432.3 L384 435.7 L386.7 435.7 L386.7 443 L410.7 445.7" stroke="#000" stroke-width="1.3" fill="none" />
<path d="M375.7 396 L386.5 396 L386.5 405 L375.7 405 Z" stroke="none" stroke-width="0" fill="#fff" />
<clipPath id="hc5b"><rect x="375" y="395" width="13" height="11"/></clipPath>
<clipPath id="hc5" clip-path="url(#hc5b)"><path d="M375.7 396 L386.5 396 L386.5 405 L375.7 405 Z"/></clipPath>
<g clip-path="url(#hc5)" stroke="#ffff00" stroke-width="1.0">
<line x1="372.65" y1="395" x2="361.65" y2="406"/>
<line x1="380.22" y1="395" x2="369.22" y2="406"/>
<line x1="387.79" y1="395" x2="376.79" y2="406"/>
<line x1="395.36" y1="395" x2="384.36" y2="406"/>
<line x1="402.93" y1="395" x2="391.93" y2="406"/>
</g>
<path d="M375.7 405 L375.7 396 L386.5 396 L386.5 405" stroke="#000" stroke-width="1.1" fill="none" />
<path d="M351.2 422.3 L372 415.9 L372.7 416 L372.7 432.3 L352.5 432.3 Q350.6 432.3 350.6 430.5 L350.6 423.3 Z" stroke="#000" stroke-width="1.2" fill="#fff" />
<line x1="352.8" y1="422" x2="352.8" y2="432" stroke="#000" stroke-width="0.8" />
<path d="M387.3 420.3 L398 420.3 L398 424.3 L401.3 424.3 L402 426.3 L412.3 426.3 Q413.6 426.3 413.6 427.6 L413.6 430 Q413.6 431 412.3 431 L387.3 431 Z" stroke="#000" stroke-width="1.2" fill="#fff" />
<path d="M378.5 400.5 L378.5 403.7" stroke="#000" stroke-width="1.1" fill="none" />
<path d="M378.5 413.3 L378.5 415.7 L372 415.7" stroke="#000" stroke-width="1.1" fill="none" />
<line x1="372.5" y1="86" x2="372.5" y2="98.5" stroke="#000" stroke-width="1.6" />
<line x1="372.5" y1="114.2" x2="372.5" y2="400.3" stroke="#000" stroke-width="1.4" />
<line x1="375.3" y1="86" x2="375.3" y2="400.3" stroke="#000" stroke-width="1.2" />
<line x1="372.6" y1="416" x2="372.6" y2="432" stroke="#000" stroke-width="1.3" />
<line x1="375.2" y1="413" x2="375.2" y2="428.3" stroke="#000" stroke-width="1.0" />
<line x1="386.5" y1="86" x2="386.5" y2="395.3" stroke="#000" stroke-width="1.2" />
<line x1="350.3" y1="86" x2="376" y2="86" stroke="#000" stroke-width="1.5" />
<path d="M350.3 86.9 L352.8 86.9 L352.8 92 L350.3 92" stroke="#000" stroke-width="0.9" fill="none" />
<line x1="352.8" y1="92" x2="371.3" y2="98.1" stroke="#000" stroke-width="1.0" />
<line x1="350.3" y1="98.6" x2="375.3" y2="98.6" stroke="#000" stroke-width="1.3" />
<path d="M350.3 104.6 L363.7 104.6 L365.5 105.4 L369.7 105.4 L369.7 107.7 L365.5 107.7 L363.7 108.2 L352.9 108.2" stroke="#000" stroke-width="1.1" fill="none" />
<line x1="355.1" y1="114.2" x2="375.3" y2="114.2" stroke="#000" stroke-width="1.5" />
<line x1="355.6" y1="119" x2="372.5" y2="114.4" stroke="#000" stroke-width="1.0" />
<line x1="355.1" y1="125.5" x2="372.5" y2="125.5" stroke="#000" stroke-width="1.0" />
<line x1="355.1" y1="139.6" x2="372.5" y2="139.6" stroke="#000" stroke-width="1.4" stroke-opacity="0.7"/>
<line x1="375.3" y1="105.8" x2="386.5" y2="105.8" stroke="#000" stroke-width="1.0" />
<path d="M375.3 119 L381 119 L384 118.6 L398.5 118.6" stroke="#000" stroke-width="1.0" fill="none" />
<line x1="386.5" y1="93.3" x2="398.5" y2="93.3" stroke="#000" stroke-width="1.0" />
<path d="M410.5 83.7 L410.5 88.9" stroke="#000" stroke-width="0.9" fill="none" />
<path d="M398.5 90 L399 89.3 L413.3 88.6 M398.5 90 L398.5 100.5 L413.3 100.2" stroke="#000" stroke-width="1.1" fill="none" />
<clipPath id="hc6b"><rect x="394" y="100" width="22" height="17"/></clipPath>
<clipPath id="hc6" clip-path="url(#hc6b)"><path d="M395.2 101 L413.3 101 L413.3 115.4 L395.2 115.4 Z"/></clipPath>
<g clip-path="url(#hc6)" stroke="#ffff00" stroke-width="1.0">
<line x1="370.22" y1="100" x2="387.22" y2="117"/>
<line x1="377.59" y1="100" x2="394.59" y2="117"/>
<line x1="384.95" y1="100" x2="401.95" y2="117"/>
<line x1="392.32" y1="100" x2="409.32" y2="117"/>
<line x1="399.68" y1="100" x2="416.68" y2="117"/>
<line x1="407.05" y1="100" x2="424.05" y2="117"/>
<line x1="414.41" y1="100" x2="431.41" y2="117"/>
<line x1="421.78" y1="100" x2="438.78" y2="117"/>
</g>
<path d="M395.2 101 L413.3 101 L413.3 115.4 L395.2 115.4 Z" stroke="#000" stroke-width="1.2" fill="none" />
<defs><linearGradient id="thr" x1="0" y1="0" x2="0" y2="1"><stop offset="0" stop-color="#222"/><stop offset="0.25" stop-color="#fff"/><stop offset="0.55" stop-color="#eee"/><stop offset="1" stop-color="#333"/></linearGradient></defs>
<path d="M396 105 L414.3 105 Q415.1 105 415.1 106 L415.1 110.4 Q415.1 111.4 414.3 111.4 L396 111.4 Z" fill="url(#thr)" stroke="#000" stroke-width="1"/>
<path d="M398.5 115.4 L398.5 122.6 L405 123.2 L413.3 123" stroke="#000" stroke-width="1.1" fill="none" />
<line x1="411" y1="123" x2="411" y2="390" stroke="#000" stroke-width="1.2" />
<path d="M421.8 88 Q426.2 95 426.1 105.5 Q426.1 116 421.8 123.5 Z" stroke="#000" stroke-width="0.6" fill="#000" />
<path d="M424.2 91.5 Q427.6 97.5 427.5 105.5 Q427.5 113.5 424.4 119.5" stroke="#777" stroke-width="0.9" fill="none" />
<line x1="421.8" y1="84" x2="421.8" y2="188" stroke="#000" stroke-width="1.0" />
<line x1="421.8" y1="188" x2="421.8" y2="390" stroke="#000" stroke-width="1.8" />
<path d="M413.3 145 L397.2 145.6 Q395.7 145.7 395.7 147.2 L395.7 159.5 Q395.7 161 397.2 161 L413.3 161" stroke="#000" stroke-width="1.1" fill="none" />
<path d="M413.3 249.4 L397.2 250 Q395.7 250.1 395.7 251.6 L395.7 263.5 Q395.7 265 397.2 265 L413.3 265" stroke="#000" stroke-width="1.1" fill="none" />
<path d="M413.3 354 L397.2 354.6 Q395.7 354.7 395.7 356.2 L395.7 368.5 Q395.7 370 397.2 370 L413.3 370" stroke="#000" stroke-width="1.1" fill="none" />
<line x1="355.1" y1="162.7" x2="377.3" y2="162.7" stroke="#000" stroke-width="1.1" />
<line x1="355.1" y1="167.3" x2="375.3" y2="167.3" stroke="#000" stroke-width="1.1" />
<line x1="355.1" y1="173.3" x2="375.3" y2="173.3" stroke="#000" stroke-width="1.1" />
<line x1="355.1" y1="178.7" x2="377.3" y2="178.7" stroke="#000" stroke-width="1.1" />
<line x1="377.3" y1="162.7" x2="377.3" y2="178.7" stroke="#000" stroke-width="1.1" />
<line x1="355.1" y1="336.4" x2="377.3" y2="336.4" stroke="#000" stroke-width="1.1" />
<line x1="355.1" y1="341.2" x2="375.3" y2="341.2" stroke="#000" stroke-width="1.1" />
<line x1="355.1" y1="347.6" x2="375.3" y2="347.6" stroke="#000" stroke-width="1.1" />
<line x1="355.1" y1="352.4" x2="377.3" y2="352.4" stroke="#000" stroke-width="1.1" />
<line x1="377.3" y1="336.4" x2="377.3" y2="352.4" stroke="#000" stroke-width="1.1" />
<line x1="372.5" y1="257.4" x2="386.5" y2="257.4" stroke="#000" stroke-width="1.0" />
<path d="M355.1 394.8 L372.1 400.5 L378.5 400.5" stroke="#000" stroke-width="1.2" fill="none" />
<path d="M348 405.5 L378 405.5 L378 411.5 L348 411.5 Z" stroke="#000" stroke-width="1.2" fill="#fff" />
<line x1="348" y1="406.8" x2="357" y2="406.8" stroke="#000" stroke-width="0.8" />
<line x1="348" y1="410.2" x2="357" y2="410.2" stroke="#000" stroke-width="0.8" />
<path d="M357.6 408.5 L361.5 405.6 L399.7 405.6 L399.7 411.5 L361.5 411.5 Z" stroke="none" stroke-width="0" fill="#fff" />
<clipPath id="hc7b"><rect x="357" y="404" width="44" height="9"/></clipPath>
<clipPath id="hc7" clip-path="url(#hc7b)"><path d="M357.6 408.5 L361.5 405.6 L399.7 405.6 L399.7 411.5 L361.5 411.5 Z"/></clipPath>
<g clip-path="url(#hc7)" stroke="#ffff00" stroke-width="1.0">
<line x1="353.51" y1="404" x2="344.51" y2="413"/>
<line x1="357.12" y1="404" x2="348.12" y2="413"/>
<line x1="360.72" y1="404" x2="351.72" y2="413"/>
<line x1="364.33" y1="404" x2="355.33" y2="413"/>
<line x1="367.94" y1="404" x2="358.94" y2="413"/>
<line x1="371.54" y1="404" x2="362.54" y2="413"/>
<line x1="375.15" y1="404" x2="366.15" y2="413"/>
<line x1="378.76" y1="404" x2="369.76" y2="413"/>
<line x1="382.36" y1="404" x2="373.36" y2="413"/>
<line x1="385.97" y1="404" x2="376.97" y2="413"/>
<line x1="389.57" y1="404" x2="380.57" y2="413"/>
<line x1="393.18" y1="404" x2="384.18" y2="413"/>
<line x1="396.79" y1="404" x2="387.79" y2="413"/>
<line x1="400.39" y1="404" x2="391.39" y2="413"/>
<line x1="404" y1="404" x2="395" y2="413"/>
<line x1="407.61" y1="404" x2="398.61" y2="413"/>
<line x1="411.21" y1="404" x2="402.21" y2="413"/>
</g>
<line x1="361.5" y1="405.2" x2="399.7" y2="405.2" stroke="#000" stroke-width="1.7" stroke-dasharray="1.5 0.9"/>
<line x1="361.5" y1="411.9" x2="399.7" y2="411.9" stroke="#000" stroke-width="1.7" stroke-dasharray="1.5 0.9"/>
<path d="M357.6 408.5 L361.5 405.6 M357.6 408.5 L361.5 411.5" stroke="#000" stroke-width="1.0" fill="none" />
<path d="M386.5 403.6 L399.7 403.6 M386.5 413.6 L399.7 413.6" stroke="#000" stroke-width="0.9" fill="none" />
<path d="M387 401.3 L390.3 401.3 L390.3 404 M387 415.8 L390.3 415.8 L390.3 413" stroke="#000" stroke-width="0.9" fill="none" />
<path d="M399.7 405.6 Q399.8 401.5 404.9 400.5 L404.9 415.9 Q399.8 415 399.7 411.5 Z" stroke="#000" stroke-width="1.0" fill="#fff" />
<path d="M400.6 403.3 Q402.8 401.6 404.6 401.4 L404.6 405 Q402 405.6 400.6 403.3 Z M400.6 413.4 Q402.8 415 404.6 415.2 L404.6 411.8 Q402 411.4 400.6 413.4 Z" stroke="#000" stroke-width="0.8" fill="#000" />
<circle cx="402.3" cy="408.5" r="1.6" stroke="#000" stroke-width="0.9" fill="none"/>
<path d="M404.9 398.4 L418.2 398.4 L418.2 394.6 L424 394.6 L426.5 403.7 L426.5 413.3 L425.3 417 L424 421.4 L418.2 421.4 L418.2 418.9 L404.9 418.9 Z" stroke="none" stroke-width="0" fill="#fff" />
<clipPath id="hc8b"><rect x="404" y="393" width="24" height="30"/></clipPath>
<clipPath id="hc8" clip-path="url(#hc8b)"><path d="M404.9 398.4 L418.2 398.4 L418.2 394.6 L424 394.6 L426.5 403.7 L426.5 413.3 L425.3 417 L424 421.4 L418.2 421.4 L418.2 418.9 L404.9 418.9 Z"/></clipPath>
<g clip-path="url(#hc8)" stroke="#ffff00" stroke-width="1.0">
<line x1="369.96" y1="393" x2="399.96" y2="423"/>
<line x1="374.77" y1="393" x2="404.77" y2="423"/>
<line x1="379.58" y1="393" x2="409.58" y2="423"/>
<line x1="384.38" y1="393" x2="414.38" y2="423"/>
<line x1="389.19" y1="393" x2="419.19" y2="423"/>
<line x1="394" y1="393" x2="424" y2="423"/>
<line x1="398.81" y1="393" x2="428.81" y2="423"/>
<line x1="403.62" y1="393" x2="433.62" y2="423"/>
<line x1="408.42" y1="393" x2="438.42" y2="423"/>
<line x1="413.23" y1="393" x2="443.23" y2="423"/>
<line x1="418.04" y1="393" x2="448.04" y2="423"/>
<line x1="422.85" y1="393" x2="452.85" y2="423"/>
<line x1="427.66" y1="393" x2="457.66" y2="423"/>
<line x1="432.47" y1="393" x2="462.47" y2="423"/>
</g>
<path d="M424 394.6 L418.2 394.6 L418.2 398.4 L404.9 398.4 L404.9 418.9 L418.2 418.9 L418.2 421.4 L424 421.4" stroke="#000" stroke-width="1.1" fill="none" />
<line x1="405.6" y1="398.4" x2="405.6" y2="418.9" stroke="#000" stroke-width="1.6" stroke-opacity="0.6"/>
<line x1="346.4" y1="372.5" x2="355.1" y2="372.5" stroke="#000" stroke-width="1.0" />
<line x1="413.3" y1="372.5" x2="421.8" y2="372.5" stroke="#000" stroke-width="1.0" />
<path d="M351.2 67 Q341.8 72 341.5 86 L341.5 432 Q343.5 442 352 445.6 Q381 458.5 410.7 445.7 Q418 440 421.3 431 L425.3 417 L426.5 413.3 L426.5 403.7 L424.1 394.8 L421.8 390 L421.8 84 Q420.5 73.5 411.3 67.6 Q406 63.4 394.4 63.2 L372 63.2 Q358 63.4 351.2 67 Z" stroke="#000" stroke-width="1.0" fill="none" />
<line x1="355.1" y1="140" x2="355.1" y2="152.7" stroke="#00ff00" stroke-width="1.1" />
<line x1="372.4" y1="140" x2="372.4" y2="152.7" stroke="#00ff00" stroke-width="1.1" />
<line x1="355.1" y1="152.5" x2="378.8" y2="152.5" stroke="#00ff00" stroke-width="1.1" />
<line x1="355.1" y1="152.5" x2="359.21" y2="152.5" stroke="#00ff00" stroke-width="1.7" />
<ellipse cx="360.53" cy="152.5" rx="1.75" ry="1.45" fill="#fff" stroke="#00ff00" stroke-width="0.95"/>
<line x1="372.4" y1="152.5" x2="368.29" y2="152.5" stroke="#00ff00" stroke-width="1.7" />
<ellipse cx="366.97" cy="152.5" rx="1.75" ry="1.45" fill="#fff" stroke="#00ff00" stroke-width="0.95"/>
<text transform="translate(390.9 152.4) scale(0.865 1)" x="0" y="4.49" font-family="'Liberation Sans', sans-serif" font-size="13.6" font-weight="normal" text-anchor="middle" fill="#000" stroke="#000" stroke-width="0.4">5.00</text>
<line x1="355.1" y1="209.3" x2="355.1" y2="220" stroke="#00ff00" stroke-width="1.1" />
<line x1="413.2" y1="209.3" x2="413.2" y2="219" stroke="#00ff00" stroke-width="1.1" />
<line x1="355.1" y1="209.4" x2="370" y2="209.4" stroke="#00ff00" stroke-width="1.1" />
<line x1="399" y1="209.4" x2="413.2" y2="209.4" stroke="#00ff00" stroke-width="1.1" />
<line x1="355.1" y1="209.4" x2="359.8" y2="209.4" stroke="#00ff00" stroke-width="1.7" />
<ellipse cx="361.3" cy="209.4" rx="1.75" ry="1.45" fill="#fff" stroke="#00ff00" stroke-width="0.95"/>
<line x1="413.2" y1="209.4" x2="408.5" y2="209.4" stroke="#00ff00" stroke-width="1.7" />
<ellipse cx="407" cy="209.4" rx="1.75" ry="1.45" fill="#fff" stroke="#00ff00" stroke-width="0.95"/>
<text transform="translate(384.2 209.6) scale(0.81 1)" x="0" y="4.49" font-family="'Liberation Sans', sans-serif" font-size="13.6" font-weight="normal" text-anchor="middle" fill="#000" stroke="#000" stroke-width="0.4">16.70</text>
<line x1="346.2" y1="270" x2="346.2" y2="277" stroke="#00ff00" stroke-width="1.1" />
<line x1="355.2" y1="270" x2="355.2" y2="277" stroke="#00ff00" stroke-width="1.1" />
<line x1="333.3" y1="277" x2="346.2" y2="277" stroke="#00ff00" stroke-width="1.1" />
<line x1="355.2" y1="277" x2="368.5" y2="277" stroke="#00ff00" stroke-width="1.1" />
<line x1="346.2" y1="277" x2="341.5" y2="277" stroke="#00ff00" stroke-width="1.7" />
<ellipse cx="340" cy="277" rx="1.75" ry="1.45" fill="#fff" stroke="#00ff00" stroke-width="0.95"/>
<line x1="355.2" y1="277" x2="359.9" y2="277" stroke="#00ff00" stroke-width="1.7" />
<ellipse cx="361.4" cy="277" rx="1.75" ry="1.45" fill="#fff" stroke="#00ff00" stroke-width="0.95"/>
<text transform="translate(380.8 277.4) scale(0.865 1)" x="0" y="4.49" font-family="'Liberation Sans', sans-serif" font-size="13.6" font-weight="normal" text-anchor="middle" fill="#000" stroke="#000" stroke-width="0.4">2.50</text>
<line x1="413.2" y1="327.2" x2="413.2" y2="335.6" stroke="#00ff00" stroke-width="1.1" />
<line x1="421.5" y1="327.2" x2="421.5" y2="335.6" stroke="#00ff00" stroke-width="1.1" />
<line x1="399" y1="327.2" x2="413.2" y2="327.2" stroke="#00ff00" stroke-width="1.1" />
<line x1="421.5" y1="327.2" x2="435.4" y2="327.2" stroke="#00ff00" stroke-width="1.1" />
<line x1="413.2" y1="327.2" x2="408.5" y2="327.2" stroke="#00ff00" stroke-width="1.7" />
<ellipse cx="407" cy="327.2" rx="1.75" ry="1.45" fill="#fff" stroke="#00ff00" stroke-width="0.95"/>
<line x1="421.5" y1="327.2" x2="426.2" y2="327.2" stroke="#00ff00" stroke-width="1.7" />
<ellipse cx="427.7" cy="327.2" rx="1.75" ry="1.45" fill="#fff" stroke="#00ff00" stroke-width="0.95"/>
<text transform="translate(387.6 327.4) scale(0.865 1)" x="0" y="4.49" font-family="'Liberation Sans', sans-serif" font-size="13.6" font-weight="normal" text-anchor="middle" fill="#000" stroke="#000" stroke-width="0.4">2.50</text>
<text transform="translate(381.8 471.4) scale(0.8 1)" x="0" y="4.42" font-family="'Liberation Mono', sans-serif" font-size="13.4" font-weight="normal" text-anchor="middle" fill="#ff00ff" stroke="#ff00ff" stroke-width="0.5">SEC A-A</text>
</g>
<g id="bottom">
<clipPath id="hc9b"><rect x="38" y="495" width="249" height="43"/></clipPath>
<clipPath id="hc9" clip-path="url(#hc9b)"><path d="M56.5 498.1 L262 498.3 Q272 499.5 276.8 506.5 Q283.6 514 283.6 526 L283.6 554 Q283 565 277.6 568.5 Q274 575.5 266.7 578.1 L59.7 578.1 Q50 575.5 45.2 568.2 Q41 563 40.9 551.5 L40.9 522 Q41.5 511 46.8 507.7 Q49 500.8 56.5 498.1 Z"/></clipPath>
<g clip-path="url(#hc9)" stroke="#ffff00" stroke-width="1.0">
<line x1="-5.36" y1="495" x2="37.64" y2="538"/>
<line x1="2.07" y1="495" x2="45.07" y2="538"/>
<line x1="9.5" y1="495" x2="52.5" y2="538"/>
<line x1="16.93" y1="495" x2="59.93" y2="538"/>
<line x1="24.36" y1="495" x2="67.36" y2="538"/>
<line x1="31.79" y1="495" x2="74.79" y2="538"/>
<line x1="39.22" y1="495" x2="82.22" y2="538"/>
<line x1="46.65" y1="495" x2="89.65" y2="538"/>
<line x1="54.08" y1="495" x2="97.08" y2="538"/>
<line x1="61.51" y1="495" x2="104.51" y2="538"/>
<line x1="68.94" y1="495" x2="111.94" y2="538"/>
<line x1="76.37" y1="495" x2="119.37" y2="538"/>
<line x1="83.8" y1="495" x2="126.8" y2="538"/>
<line x1="91.23" y1="495" x2="134.23" y2="538"/>
<line x1="98.66" y1="495" x2="141.66" y2="538"/>
<line x1="106.09" y1="495" x2="149.09" y2="538"/>
<line x1="113.52" y1="495" x2="156.52" y2="538"/>
<line x1="120.95" y1="495" x2="163.95" y2="538"/>
<line x1="128.38" y1="495" x2="171.38" y2="538"/>
<line x1="135.81" y1="495" x2="178.81" y2="538"/>
<line x1="143.24" y1="495" x2="186.24" y2="538"/>
<line x1="150.67" y1="495" x2="193.67" y2="538"/>
<line x1="158.1" y1="495" x2="201.1" y2="538"/>
<line x1="165.53" y1="495" x2="208.53" y2="538"/>
<line x1="172.96" y1="495" x2="215.96" y2="538"/>
<line x1="180.39" y1="495" x2="223.39" y2="538"/>
<line x1="187.82" y1="495" x2="230.82" y2="538"/>
<line x1="195.25" y1="495" x2="238.25" y2="538"/>
<line x1="202.68" y1="495" x2="245.68" y2="538"/>
<line x1="210.11" y1="495" x2="253.11" y2="538"/>
<line x1="217.55" y1="495" x2="260.55" y2="538"/>
<line x1="224.98" y1="495" x2="267.98" y2="538"/>
<line x1="232.41" y1="495" x2="275.41" y2="538"/>
<line x1="239.84" y1="495" x2="282.84" y2="538"/>
<line x1="247.27" y1="495" x2="290.27" y2="538"/>
<line x1="254.7" y1="495" x2="297.7" y2="538"/>
<line x1="262.13" y1="495" x2="305.13" y2="538"/>
<line x1="269.56" y1="495" x2="312.56" y2="538"/>
<line x1="276.99" y1="495" x2="319.99" y2="538"/>
<line x1="284.42" y1="495" x2="327.42" y2="538"/>
<line x1="291.85" y1="495" x2="334.85" y2="538"/>
</g>
<clipPath id="hc10b"><rect x="38" y="538" width="249" height="43"/></clipPath>
<clipPath id="hc10" clip-path="url(#hc10b)"><path d="M56.5 498.1 L262 498.3 Q272 499.5 276.8 506.5 Q283.6 514 283.6 526 L283.6 554 Q283 565 277.6 568.5 Q274 575.5 266.7 578.1 L59.7 578.1 Q50 575.5 45.2 568.2 Q41 563 40.9 551.5 L40.9 522 Q41.5 511 46.8 507.7 Q49 500.8 56.5 498.1 Z"/></clipPath>
<g clip-path="url(#hc10)" stroke="#ffff00" stroke-width="1.0">
<line x1="-8.37" y1="538" x2="34.63" y2="581"/>
<line x1="-0.94" y1="538" x2="42.06" y2="581"/>
<line x1="6.49" y1="538" x2="49.49" y2="581"/>
<line x1="13.92" y1="538" x2="56.92" y2="581"/>
<line x1="21.35" y1="538" x2="64.35" y2="581"/>
<line x1="28.78" y1="538" x2="71.78" y2="581"/>
<line x1="36.21" y1="538" x2="79.21" y2="581"/>
<line x1="43.64" y1="538" x2="86.64" y2="581"/>
<line x1="51.07" y1="538" x2="94.07" y2="581"/>
<line x1="58.5" y1="538" x2="101.5" y2="581"/>
<line x1="65.93" y1="538" x2="108.93" y2="581"/>
<line x1="73.36" y1="538" x2="116.36" y2="581"/>
<line x1="80.79" y1="538" x2="123.79" y2="581"/>
<line x1="88.22" y1="538" x2="131.22" y2="581"/>
<line x1="95.65" y1="538" x2="138.65" y2="581"/>
<line x1="103.08" y1="538" x2="146.08" y2="581"/>
<line x1="110.51" y1="538" x2="153.51" y2="581"/>
<line x1="117.94" y1="538" x2="160.94" y2="581"/>
<line x1="125.37" y1="538" x2="168.37" y2="581"/>
<line x1="132.8" y1="538" x2="175.8" y2="581"/>
<line x1="140.23" y1="538" x2="183.23" y2="581"/>
<line x1="147.66" y1="538" x2="190.66" y2="581"/>
<line x1="155.09" y1="538" x2="198.09" y2="581"/>
<line x1="162.52" y1="538" x2="205.52" y2="581"/>
<line x1="169.95" y1="538" x2="212.95" y2="581"/>
<line x1="177.38" y1="538" x2="220.38" y2="581"/>
<line x1="184.81" y1="538" x2="227.81" y2="581"/>
<line x1="192.25" y1="538" x2="235.25" y2="581"/>
<line x1="199.68" y1="538" x2="242.68" y2="581"/>
<line x1="207.11" y1="538" x2="250.11" y2="581"/>
<line x1="214.54" y1="538" x2="257.54" y2="581"/>
<line x1="221.97" y1="538" x2="264.97" y2="581"/>
<line x1="229.4" y1="538" x2="272.4" y2="581"/>
<line x1="236.83" y1="538" x2="279.83" y2="581"/>
<line x1="244.26" y1="538" x2="287.26" y2="581"/>
<line x1="251.69" y1="538" x2="294.69" y2="581"/>
<line x1="259.12" y1="538" x2="302.12" y2="581"/>
<line x1="266.55" y1="538" x2="309.55" y2="581"/>
<line x1="273.98" y1="538" x2="316.98" y2="581"/>
<line x1="281.41" y1="538" x2="324.41" y2="581"/>
<line x1="288.84" y1="538" x2="331.84" y2="581"/>
</g>
<path d="M60.4 507.2 L75.3 507.2 Q79.5 507.5 81.2 511.8 L245.1 511.8 L249.9 507.5 L265.5 507.5 L270.4 512.3 L270.4 520 L264.3 520 L264.3 568.5 Q264.3 570.3 262.5 570.3 L62.4 570.3 Q60.6 570.3 60.6 568.5 Z" stroke="#000" stroke-width="1.1" fill="#fff" />
<path d="M46.8 507.7 Q41.5 511 40.9 522 L40.9 551.5 Q41 563 45.2 568.2 Q49.3 566 49.5 562.3 L49.5 543.4 L56.5 543.4 L56.5 540.8 L60.3 540.8 L63.5 540.8 L63.5 530 L56.5 530 L56.5 533 L49.5 533 L49 520 Q48.5 512 46.8 507.7 Z" stroke="none" stroke-width="0" fill="#fff" />
<clipPath id="hc11b"><rect x="39" y="505" width="26" height="65"/></clipPath>
<clipPath id="hc11" clip-path="url(#hc11b)"><path d="M46.8 507.7 Q41.5 511 40.9 522 L40.9 551.5 Q41 563 45.2 568.2 Q49.3 566 49.5 562.3 L49.5 543.4 L56.5 543.4 L56.5 540.8 L60.3 540.8 L63.5 540.8 L63.5 530 L56.5 530 L56.5 533 L49.5 533 L49 520 Q48.5 512 46.8 507.7 Z"/></clipPath>
<g clip-path="url(#hc11)" stroke="#ffff00" stroke-width="1.0">
<line x1="36.02" y1="505" x2="-28.98" y2="570"/>
<line x1="43.38" y1="505" x2="-21.62" y2="570"/>
<line x1="50.73" y1="505" x2="-14.27" y2="570"/>
<line x1="58.08" y1="505" x2="-6.92" y2="570"/>
<line x1="65.44" y1="505" x2="0.44" y2="570"/>
<line x1="72.79" y1="505" x2="7.79" y2="570"/>
<line x1="80.15" y1="505" x2="15.15" y2="570"/>
<line x1="87.5" y1="505" x2="22.5" y2="570"/>
<line x1="94.85" y1="505" x2="29.85" y2="570"/>
<line x1="102.21" y1="505" x2="37.21" y2="570"/>
<line x1="109.56" y1="505" x2="44.56" y2="570"/>
<line x1="116.92" y1="505" x2="51.92" y2="570"/>
<line x1="124.27" y1="505" x2="59.27" y2="570"/>
<line x1="131.62" y1="505" x2="66.62" y2="570"/>
</g>
<path d="M46.8 507.7 Q48.5 512 49 520 L49.5 533 L56.5 533 L56.5 530 L63.5 530 L63.5 540.8 L56.5 540.8 L56.5 543.4 L49.5 543.4 L49.5 562.3 Q49.3 566 45.2 568.2" stroke="#000" stroke-width="1.1" fill="none" />
<line x1="49.5" y1="532.8" x2="56.5" y2="532.8" stroke="#000" stroke-width="1.8" />
<path d="M277.6 507.5 Q283.6 514 283.6 526 L283.6 554 Q283 565 277.6 568.5 L276.3 565.6 L272.5 565 L270.4 565 L270.4 520 Q270.8 514 272.5 512.6 L276.8 512.3 Z" stroke="none" stroke-width="0" fill="#fff" />
<clipPath id="hc12b"><rect x="268" y="505" width="18" height="65"/></clipPath>
<clipPath id="hc12" clip-path="url(#hc12b)"><path d="M277.6 507.5 Q283.6 514 283.6 526 L283.6 554 Q283 565 277.6 568.5 L276.3 565.6 L272.5 565 L270.4 565 L270.4 520 Q270.8 514 272.5 512.6 L276.8 512.3 Z"/></clipPath>
<g clip-path="url(#hc12)" stroke="#ffff00" stroke-width="1.0">
<line x1="267.88" y1="505" x2="202.88" y2="570"/>
<line x1="275.23" y1="505" x2="210.23" y2="570"/>
<line x1="282.58" y1="505" x2="217.58" y2="570"/>
<line x1="289.94" y1="505" x2="224.94" y2="570"/>
<line x1="297.29" y1="505" x2="232.29" y2="570"/>
<line x1="304.65" y1="505" x2="239.65" y2="570"/>
<line x1="312" y1="505" x2="247" y2="570"/>
<line x1="319.35" y1="505" x2="254.35" y2="570"/>
<line x1="326.71" y1="505" x2="261.71" y2="570"/>
<line x1="334.06" y1="505" x2="269.06" y2="570"/>
<line x1="341.42" y1="505" x2="276.42" y2="570"/>
<line x1="348.77" y1="505" x2="283.77" y2="570"/>
<line x1="356.12" y1="505" x2="291.12" y2="570"/>
</g>
<path d="M277.6 507.5 L276.8 512.3 L272.5 512.6 Q270.8 514 270.4 520 L270.4 565 L272.5 565 L276.3 565.6 L277.6 568.5" stroke="#000" stroke-width="1.1" fill="none" />
<line x1="270.6" y1="520" x2="270.6" y2="565" stroke="#000" stroke-width="1.7" />
<path d="M269.8 506.6 L276.3 506.6 L277.4 508 L276.8 512.3 L269.8 512.3 Z" stroke="#000" stroke-width="1.0" fill="#fff" />
<path d="M82.2 498.9 L242.1 498.9 L242.1 503 L82.2 503 Z" stroke="none" stroke-width="0" fill="#fff" />
<line x1="82.2" y1="499.5" x2="242.1" y2="499.5" stroke="#b0b0b0" stroke-width="1.2" />
<line x1="82.2" y1="500.4" x2="242.1" y2="500.4" stroke="#000" stroke-width="1.3" />
<line x1="82.2" y1="502.6" x2="242.1" y2="502.6" stroke="#000" stroke-width="1.3" />
<line x1="90.4" y1="498.6" x2="90.4" y2="502.6" stroke="#000" stroke-width="1.0" />
<line x1="233.8" y1="498.6" x2="233.8" y2="502.6" stroke="#000" stroke-width="1.0" />
<line x1="162.3" y1="498.4" x2="162.3" y2="500.8" stroke="#000" stroke-width="0.9" />
<line x1="82.4" y1="500" x2="82.4" y2="503" stroke="#000" stroke-width="1.1" />
<line x1="241.9" y1="500" x2="241.9" y2="503" stroke="#000" stroke-width="1.1" />
<line x1="64" y1="529.3" x2="260.7" y2="529.3" stroke="#000" stroke-width="1.0" />
<line x1="64" y1="531.9" x2="260.7" y2="531.9" stroke="#000" stroke-width="1.5" stroke-opacity="0.55"/>
<line x1="49.5" y1="543.3" x2="264.3" y2="543.3" stroke="#000" stroke-width="1.1" />
<line x1="64" y1="507.2" x2="64" y2="543.3" stroke="#000" stroke-width="1.0" />
<line x1="71.6" y1="532" x2="71.2" y2="555.3" stroke="#000" stroke-width="1.0" />
<line x1="96.8" y1="532" x2="96.8" y2="555.3" stroke="#000" stroke-width="1.0" />
<line x1="162.3" y1="533" x2="162.3" y2="552.6" stroke="#000" stroke-width="1.0" />
<line x1="227" y1="532" x2="227" y2="552.3" stroke="#000" stroke-width="1.0" />
<line x1="252.3" y1="532" x2="252.8" y2="555.3" stroke="#000" stroke-width="1.0" />
<line x1="260.7" y1="507.5" x2="260.7" y2="570" stroke="#000" stroke-width="1.0" />
<line x1="69.4" y1="507.7" x2="75.9" y2="527.1" stroke="#000" stroke-width="1.0" />
<line x1="76.4" y1="511" x2="76.4" y2="529.3" stroke="#000" stroke-width="1.0" />
<line x1="64" y1="527.1" x2="76" y2="527.1" stroke="#000" stroke-width="1.0" />
<path d="M82.3 512 L82.3 526.6 L85.5 526.6 L85.5 512" stroke="#000" stroke-width="1.0" fill="none" />
<path d="M88.8 512 L88.8 527 Q88.8 528.7 90.5 528.7 L103.3 528.7 L103.3 512" stroke="#000" stroke-width="1.0" fill="none" />
<line x1="100.5" y1="512" x2="100.5" y2="528.7" stroke="#000" stroke-width="0.8" />
<path d="M220.4 512 L220.4 528.5 L233.2 528.5 Q234.9 528.5 234.9 526.8 L234.9 512" stroke="#000" stroke-width="1.0" fill="none" />
<line x1="223.2" y1="512" x2="223.2" y2="528.5" stroke="#000" stroke-width="0.8" />
<path d="M238.5 512 L238.5 526.1 L241.5 526.1 L241.5 512" stroke="#000" stroke-width="1.0" fill="none" />
<line x1="254.7" y1="507.5" x2="248.1" y2="528.5" stroke="#000" stroke-width="1.0" />
<line x1="247.6" y1="511.8" x2="247.6" y2="529.3" stroke="#000" stroke-width="1.0" />
<path d="M256.5 507.5 L257.5 512.5 L261 512.5 L262 509 L264.8 509" stroke="#000" stroke-width="0.9" fill="none" />
<line x1="155.3" y1="512" x2="155.3" y2="533" stroke="#000" stroke-width="1.0" />
<line x1="158.3" y1="512" x2="158.3" y2="533" stroke="#000" stroke-width="1.0" />
<line x1="161.3" y1="512" x2="161.3" y2="533" stroke="#000" stroke-width="1.0" />
<line x1="163.4" y1="512" x2="163.4" y2="533" stroke="#000" stroke-width="1.0" />
<line x1="166.4" y1="512" x2="166.4" y2="533" stroke="#000" stroke-width="1.0" />
<line x1="169.4" y1="512" x2="169.4" y2="533" stroke="#000" stroke-width="1.0" />
<line x1="153.5" y1="533" x2="171.2" y2="533" stroke="#000" stroke-width="1.0" />
<path d="M154.7 570 L154.7 552.6 L169.8 552.6 L169.8 570" stroke="#000" stroke-width="1.1" fill="none" />
<path d="M66.3 570 L67.4 557 Q67.5 555.3 69.2 555.3 L78 555.3" stroke="#000" stroke-width="1.1" fill="none" />
<clipPath id="hc13b"><rect x="78" y="552" width="16" height="20"/></clipPath>
<clipPath id="hc13" clip-path="url(#hc13b)"><path d="M78.5 552.4 L93.6 552.4 L93.6 570.9 L78.5 570.9 Z"/></clipPath>
<g clip-path="url(#hc13)" stroke="#ffff00" stroke-width="1.0">
<line x1="57.64" y1="552" x2="77.64" y2="572"/>
<line x1="65.07" y1="552" x2="85.07" y2="572"/>
<line x1="72.5" y1="552" x2="92.5" y2="572"/>
<line x1="79.93" y1="552" x2="99.93" y2="572"/>
<line x1="87.36" y1="552" x2="107.36" y2="572"/>
<line x1="94.79" y1="552" x2="114.79" y2="572"/>
</g>
<path d="M78.5 570.3 L78.5 552.4 L93.6 552.4 L93.6 570.3" stroke="#000" stroke-width="1.1" fill="none" />
<path d="M82.3 552.4 L82.3 571.4 L89.3 571.4 L89.3 552.4 Z" stroke="#000" stroke-width="1.0" fill="#fff" />
<line x1="84" y1="556" x2="84" y2="571.4" stroke="#000" stroke-width="0.9" stroke-opacity="0.7"/>
<line x1="87.6" y1="552.4" x2="87.6" y2="571.4" stroke="#000" stroke-width="1.3" />
<path d="M93.6 555.3 L99.4 555.3 Q101.1 555.3 101.1 557 L101.6 570" stroke="#000" stroke-width="1.1" fill="none" />
<path d="M222.2 570 L222.8 557 Q222.9 555.3 224.6 555.3 L231.2 555.3" stroke="#000" stroke-width="1.1" fill="none" />
<clipPath id="hc14b"><rect x="231" y="552" width="15" height="20"/></clipPath>
<clipPath id="hc14" clip-path="url(#hc14b)"><path d="M231.2 552.3 L245.1 552.3 L245.1 571 L231.2 571 Z"/></clipPath>
<g clip-path="url(#hc14)" stroke="#ffff00" stroke-width="1.0">
<line x1="206.25" y1="552" x2="226.25" y2="572"/>
<line x1="213.68" y1="552" x2="233.68" y2="572"/>
<line x1="221.11" y1="552" x2="241.11" y2="572"/>
<line x1="228.54" y1="552" x2="248.54" y2="572"/>
<line x1="235.97" y1="552" x2="255.97" y2="572"/>
<line x1="243.4" y1="552" x2="263.4" y2="572"/>
<line x1="250.83" y1="552" x2="270.83" y2="572"/>
</g>
<path d="M231.2 570.3 L231.2 552.3 L245.1 552.3 L245.1 570.3" stroke="#000" stroke-width="1.1" fill="none" />
<path d="M234.9 552.3 L234.9 571.4 L241.5 571.4 L241.5 552.3 Z" stroke="#000" stroke-width="1.0" fill="#fff" />
<line x1="236.6" y1="552.3" x2="236.6" y2="571.4" stroke="#000" stroke-width="1.3" />
<line x1="239.8" y1="556" x2="239.8" y2="571.4" stroke="#000" stroke-width="0.9" stroke-opacity="0.7"/>
<path d="M245.7 555.3 L255.4 555.3 Q257.1 555.3 257.2 557 L258 570" stroke="#000" stroke-width="1.1" fill="none" />
<path d="M67.3 578.3 Q83.94999999999999 587.5 100.6 578.3 Z" stroke="#000" stroke-width="0.8" fill="#111" />
<line x1="77.95" y1="582.6" x2="89.95" y2="582.6" stroke="#999" stroke-width="1.4" />
<path d="M222 578.3 Q239.5 587.5 257 578.3 Z" stroke="#000" stroke-width="0.8" fill="#111" />
<line x1="233.5" y1="582.6" x2="245.5" y2="582.6" stroke="#999" stroke-width="1.4" />
<path d="M56.5 498.1 L262 498.3 Q272 499.5 276.8 506.5 Q283.6 514 283.6 526 L283.6 554 Q283 565 277.6 568.5 Q274 575.5 266.7 578.1 L59.7 578.1 Q50 575.5 45.2 568.2 Q41 563 40.9 551.5 L40.9 522 Q41.5 511 46.8 507.7 Q49 500.8 56.5 498.1 Z" stroke="#000" stroke-width="1.0" fill="none" />
<line x1="101" y1="577.9" x2="222" y2="577.9" stroke="#000" stroke-width="1.7" />
<line x1="118.2" y1="512" x2="118.2" y2="525.86" stroke="#00ff00" stroke-width="1.1" />
<line x1="118.2" y1="554.74" x2="118.2" y2="570" stroke="#00ff00" stroke-width="1.1" />
<line x1="118.2" y1="512" x2="118.2" y2="516.7" stroke="#00ff00" stroke-width="1.7" />
<ellipse cx="118.2" cy="518.2" rx="1.45" ry="1.75" fill="#fff" stroke="#00ff00" stroke-width="0.95"/>
<line x1="118.2" y1="570" x2="118.2" y2="565.3" stroke="#00ff00" stroke-width="1.7" />
<ellipse cx="118.2" cy="563.8" rx="1.45" ry="1.75" fill="#fff" stroke="#00ff00" stroke-width="0.95"/>
<text transform="translate(118.2 540.3) rotate(-90) scale(0.81 1)" x="0" y="4.49" font-family="'Liberation Sans', sans-serif" font-size="13.6" font-weight="normal" text-anchor="middle" fill="#000" stroke="#000" stroke-width="0.4">16.70</text>
<line x1="108" y1="512" x2="119" y2="512" stroke="#00ff00" stroke-width="1.1" />
<line x1="108" y1="570" x2="119" y2="570" stroke="#00ff00" stroke-width="1.1" />
<line x1="209" y1="552.2" x2="231" y2="552.2" stroke="#00ff00" stroke-width="1.1" />
<line x1="209" y1="570" x2="230" y2="570" stroke="#00ff00" stroke-width="1.1" />
<line x1="210.1" y1="546.2" x2="210.1" y2="570" stroke="#00ff00" stroke-width="1.1" />
<line x1="210.1" y1="552.2" x2="210.1" y2="555.73" stroke="#00ff00" stroke-width="1.7" />
<ellipse cx="210.1" cy="556.85" rx="1.45" ry="1.75" fill="#fff" stroke="#00ff00" stroke-width="0.95"/>
<line x1="210.1" y1="570" x2="210.1" y2="566.48" stroke="#00ff00" stroke-width="1.7" />
<ellipse cx="210.1" cy="565.35" rx="1.45" ry="1.75" fill="#fff" stroke="#00ff00" stroke-width="0.95"/>
<text transform="translate(210.2 533.4) rotate(-90) scale(0.865 1)" x="0" y="4.49" font-family="'Liberation Sans', sans-serif" font-size="13.6" font-weight="normal" text-anchor="middle" fill="#000" stroke="#000" stroke-width="0.4">5.00</text>
<line x1="189" y1="563.2" x2="189" y2="570" stroke="#00ff00" stroke-width="1.1" />
<line x1="189" y1="570" x2="189" y2="566.48" stroke="#00ff00" stroke-width="1.7" />
<ellipse cx="189" cy="565.35" rx="1.45" ry="1.75" fill="#fff" stroke="#00ff00" stroke-width="0.95"/>
<line x1="189" y1="577.8" x2="189" y2="591.3" stroke="#00ff00" stroke-width="1.1" />
<line x1="189" y1="577.8" x2="189" y2="581.91" stroke="#00ff00" stroke-width="1.7" />
<ellipse cx="189" cy="583.22" rx="1.45" ry="1.75" fill="#fff" stroke="#00ff00" stroke-width="0.95"/>
<line x1="189" y1="577.8" x2="205" y2="577.8" stroke="#00ff00" stroke-width="1.1" />
<text transform="translate(189.2 551.6) rotate(-90) scale(0.865 1)" x="0" y="4.49" font-family="'Liberation Sans', sans-serif" font-size="13.6" font-weight="normal" text-anchor="middle" fill="#000" stroke="#000" stroke-width="0.4">0.30</text>
<line x1="250" y1="498.4" x2="295.2" y2="498.4" stroke="#00ff00" stroke-width="1.1" />
<line x1="241" y1="502.8" x2="295.2" y2="502.8" stroke="#00ff00" stroke-width="1.1" />
<line x1="293.8" y1="485.2" x2="293.8" y2="498.4" stroke="#00ff00" stroke-width="1.1" />
<line x1="293.8" y1="498.4" x2="293.8" y2="494.29" stroke="#00ff00" stroke-width="1.7" />
<ellipse cx="293.8" cy="492.97" rx="1.45" ry="1.75" fill="#fff" stroke="#00ff00" stroke-width="0.95"/>
<line x1="293.8" y1="502.8" x2="293.8" y2="516" stroke="#00ff00" stroke-width="1.1" />
<line x1="293.8" y1="502.8" x2="293.8" y2="506.91" stroke="#00ff00" stroke-width="1.7" />
<ellipse cx="293.8" cy="508.23" rx="1.45" ry="1.75" fill="#fff" stroke="#00ff00" stroke-width="0.95"/>
<text transform="translate(293.7 528.2) rotate(-90) scale(0.8 1)" x="0" y="4.49" font-family="'Liberation Sans', sans-serif" font-size="13.6" font-weight="normal" text-anchor="middle" fill="#000" stroke="#000" stroke-width="0.4">1.30</text>
<text transform="translate(162.2 594) scale(0.8 1)" x="0" y="4.42" font-family="'Liberation Mono', sans-serif" font-size="13.4" font-weight="normal" text-anchor="middle" fill="#ff00ff" stroke="#ff00ff" stroke-width="0.5">SEC B-B</text>
</g>
</svg>
</body></html>
